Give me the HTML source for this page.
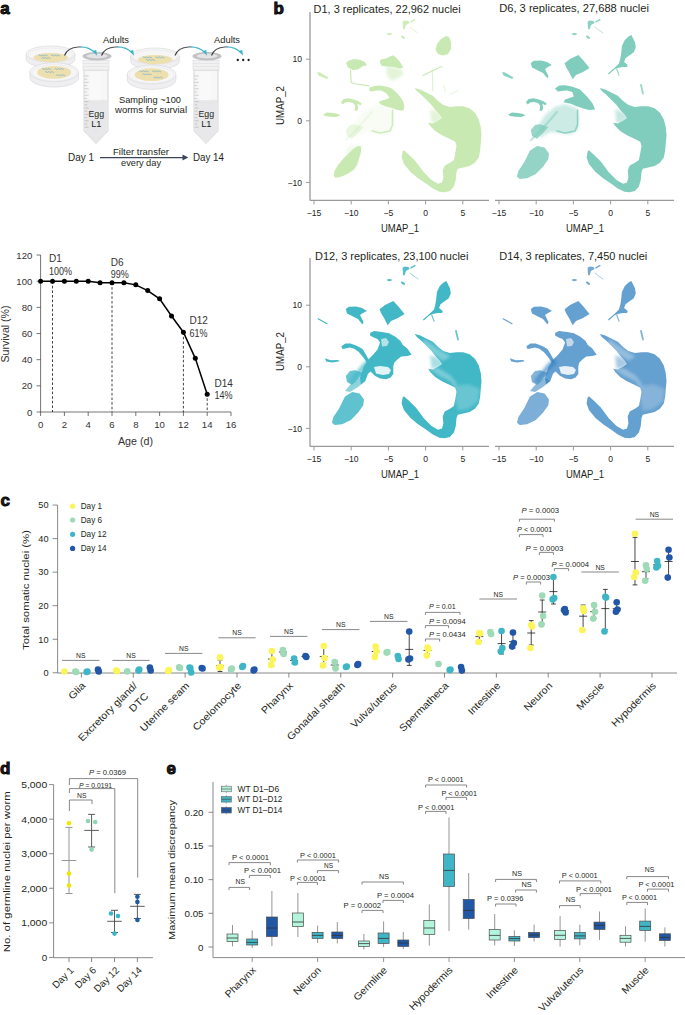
<!DOCTYPE html>
<html><head><meta charset="utf-8"><style>
html,body{margin:0;padding:0;background:#fff;}
svg{display:block;font-family:"Liberation Sans", sans-serif;}
</style></head><body>
<svg width="685" height="1015" viewBox="0 0 685 1015" fill="#231f20">
<rect width="685" height="1015" fill="#fff"/>
<text x="0.30" y="14.10" font-size="17" font-weight="bold" stroke="#000" stroke-width="0.9">a</text>
<path d="M26.2,54 L26.2,59.4 A24.3,8 0 0 0 74.8,59.4 L74.8,54 Z" fill="#efeff1" stroke="#d3d3d6" stroke-width="0.55"/>
<ellipse cx="50.5" cy="54" rx="24.3" ry="8" fill="#f6f6f7" stroke="#d3d3d6" stroke-width="0.55"/>
<ellipse cx="50.5" cy="54.6" rx="22.3" ry="6.7" fill="none" stroke="#e3e3e5" stroke-width="0.5"/>
<ellipse cx="50.7" cy="57.6" rx="17.2" ry="4.6" fill="#eedfae"/>
<path d="M38.5,55.4 q0.75,-1.0 1.5,0 q0.75,1.0 1.5,0 q0.75,-1.0 1.5,0 q0.75,1.0 1.5,0 q0.75,-1.0 1.5,0 q0.75,1.0 1.5,0" fill="none" stroke="#5aa8d4" stroke-width="0.65"/>
<path d="M51.0,55.4 q0.75,-1.0 1.5,0 q0.75,1.0 1.5,0 q0.75,-1.0 1.5,0 q0.75,1.0 1.5,0 q0.75,-1.0 1.5,0 q0.75,1.0 1.5,0" fill="none" stroke="#5aa8d4" stroke-width="0.65"/>
<path d="M41.5,58.0 q0.75,-1.0 1.5,0 q0.75,1.0 1.5,0 q0.75,-1.0 1.5,0 q0.75,1.0 1.5,0 q0.75,-1.0 1.5,0 q0.75,1.0 1.5,0" fill="none" stroke="#5aa8d4" stroke-width="0.65"/>
<path d="M29.900000000000002,72.2 L29.900000000000002,77.60000000000001 A24.3,9.5 0 0 0 78.5,77.60000000000001 L78.5,72.2 Z" fill="#efeff1" stroke="#d3d3d6" stroke-width="0.55"/>
<ellipse cx="54.2" cy="72.2" rx="24.3" ry="9.5" fill="#f6f6f7" stroke="#d3d3d6" stroke-width="0.55"/>
<ellipse cx="54.2" cy="72.8" rx="22.3" ry="8.2" fill="none" stroke="#e3e3e5" stroke-width="0.5"/>
<ellipse cx="54.2" cy="72.4" rx="17" ry="6.4" fill="#eedfae"/>
<path d="M42.2,69.0 q0.75,-1.0 1.5,0 q0.75,1.0 1.5,0 q0.75,-1.0 1.5,0 q0.75,1.0 1.5,0 q0.75,-1.0 1.5,0 q0.75,1.0 1.5,0" fill="none" stroke="#5aa8d4" stroke-width="0.65"/>
<path d="M54.7,69.0 q0.75,-1.0 1.5,0 q0.75,1.0 1.5,0 q0.75,-1.0 1.5,0 q0.75,1.0 1.5,0 q0.75,-1.0 1.5,0 q0.75,1.0 1.5,0" fill="none" stroke="#5aa8d4" stroke-width="0.65"/>
<path d="M45.2,72.0 q0.75,-1.0 1.5,0 q0.75,1.0 1.5,0 q0.75,-1.0 1.5,0 q0.75,1.0 1.5,0 q0.75,-1.0 1.5,0 q0.75,1.0 1.5,0" fill="none" stroke="#5aa8d4" stroke-width="0.65"/>
<path d="M56.2,75.2 q0.75,-1.0 1.5,0 q0.75,1.0 1.5,0 q0.75,-1.0 1.5,0 q0.75,1.0 1.5,0 q0.75,-1.0 1.5,0 q0.75,1.0 1.5,0" fill="none" stroke="#5aa8d4" stroke-width="0.65"/>
<path d="M130.7,56 L130.7,61.4 A24.3,8 0 0 0 179.3,61.4 L179.3,56 Z" fill="#efeff1" stroke="#d3d3d6" stroke-width="0.55"/>
<ellipse cx="155" cy="56" rx="24.3" ry="8" fill="#f6f6f7" stroke="#d3d3d6" stroke-width="0.55"/>
<ellipse cx="155" cy="56.6" rx="22.3" ry="6.7" fill="none" stroke="#e3e3e5" stroke-width="0.5"/>
<ellipse cx="155.2" cy="59.6" rx="17.2" ry="4.6" fill="#eedfae"/>
<path d="M143.0,57.4 q0.75,-1.0 1.5,0 q0.75,1.0 1.5,0 q0.75,-1.0 1.5,0 q0.75,1.0 1.5,0 q0.75,-1.0 1.5,0 q0.75,1.0 1.5,0" fill="none" stroke="#5aa8d4" stroke-width="0.65"/>
<path d="M155.5,57.4 q0.75,-1.0 1.5,0 q0.75,1.0 1.5,0 q0.75,-1.0 1.5,0 q0.75,1.0 1.5,0 q0.75,-1.0 1.5,0 q0.75,1.0 1.5,0" fill="none" stroke="#5aa8d4" stroke-width="0.65"/>
<path d="M146.0,60.0 q0.75,-1.0 1.5,0 q0.75,1.0 1.5,0 q0.75,-1.0 1.5,0 q0.75,1.0 1.5,0 q0.75,-1.0 1.5,0 q0.75,1.0 1.5,0" fill="none" stroke="#5aa8d4" stroke-width="0.65"/>
<path d="M127.3,74.5 L127.3,79.9 A24.3,9.5 0 0 0 175.9,79.9 L175.9,74.5 Z" fill="#efeff1" stroke="#d3d3d6" stroke-width="0.55"/>
<ellipse cx="151.6" cy="74.5" rx="24.3" ry="9.5" fill="#f6f6f7" stroke="#d3d3d6" stroke-width="0.55"/>
<ellipse cx="151.6" cy="75.1" rx="22.3" ry="8.2" fill="none" stroke="#e3e3e5" stroke-width="0.5"/>
<ellipse cx="151.6" cy="74.7" rx="17" ry="6.4" fill="#eedfae"/>
<path d="M139.6,71.3 q0.75,-1.0 1.5,0 q0.75,1.0 1.5,0 q0.75,-1.0 1.5,0 q0.75,1.0 1.5,0 q0.75,-1.0 1.5,0 q0.75,1.0 1.5,0" fill="none" stroke="#5aa8d4" stroke-width="0.65"/>
<path d="M152.1,71.3 q0.75,-1.0 1.5,0 q0.75,1.0 1.5,0 q0.75,-1.0 1.5,0 q0.75,1.0 1.5,0 q0.75,-1.0 1.5,0 q0.75,1.0 1.5,0" fill="none" stroke="#5aa8d4" stroke-width="0.65"/>
<path d="M142.6,74.3 q0.75,-1.0 1.5,0 q0.75,1.0 1.5,0 q0.75,-1.0 1.5,0 q0.75,1.0 1.5,0 q0.75,-1.0 1.5,0 q0.75,1.0 1.5,0" fill="none" stroke="#5aa8d4" stroke-width="0.65"/>
<path d="M153.6,77.5 q0.75,-1.0 1.5,0 q0.75,1.0 1.5,0 q0.75,-1.0 1.5,0 q0.75,1.0 1.5,0 q0.75,-1.0 1.5,0 q0.75,1.0 1.5,0" fill="none" stroke="#5aa8d4" stroke-width="0.65"/>
<path d="M84,70 L84,131 L96.0,143.5 L108,131 L108,70 Z" fill="#f7f7f8" stroke="#c6c6c8" stroke-width="0.7"/>
<path d="M84.4,101 L84.4,131 L96.0,143 L107.6,131 L107.6,101 Z" fill="#e8e8ea"/>
<ellipse cx="96.0" cy="101" rx="11.6" ry="1.2" fill="#ececee" stroke="#dcdcde" stroke-width="0.4"/>
<rect x="90" y="72" width="11" height="28" fill="#f9f9fa"/>
<rect x="83" y="60.5" width="26" height="9.5" fill="#f1f1f2" stroke="#d6d6d8" stroke-width="0.5"/>
<line x1="83" y1="63.5" x2="109" y2="63.5" stroke="#dadadc" stroke-width="0.5"/>
<line x1="83" y1="66.5" x2="109" y2="66.5" stroke="#dadadc" stroke-width="0.5"/>
<line x1="84.6" y1="76.0" x2="88.6" y2="76.0" stroke="#9a9a9c" stroke-width="0.45"/>
<line x1="84.6" y1="79.2" x2="87.19999999999999" y2="79.2" stroke="#9a9a9c" stroke-width="0.45"/>
<line x1="84.6" y1="82.4" x2="88.6" y2="82.4" stroke="#9a9a9c" stroke-width="0.45"/>
<line x1="84.6" y1="85.6" x2="87.19999999999999" y2="85.6" stroke="#9a9a9c" stroke-width="0.45"/>
<line x1="84.6" y1="88.8" x2="88.6" y2="88.8" stroke="#9a9a9c" stroke-width="0.45"/>
<line x1="84.6" y1="92.0" x2="87.19999999999999" y2="92.0" stroke="#9a9a9c" stroke-width="0.45"/>
<line x1="84.6" y1="95.2" x2="88.6" y2="95.2" stroke="#9a9a9c" stroke-width="0.45"/>
<line x1="84.6" y1="98.4" x2="87.19999999999999" y2="98.4" stroke="#9a9a9c" stroke-width="0.45"/>
<line x1="84.6" y1="101.6" x2="88.6" y2="101.6" stroke="#9a9a9c" stroke-width="0.45"/>
<line x1="84.6" y1="104.8" x2="87.19999999999999" y2="104.8" stroke="#9a9a9c" stroke-width="0.45"/>
<line x1="84.6" y1="108.0" x2="88.6" y2="108.0" stroke="#9a9a9c" stroke-width="0.45"/>
<line x1="84.6" y1="111.2" x2="87.19999999999999" y2="111.2" stroke="#9a9a9c" stroke-width="0.45"/>
<line x1="84.6" y1="114.4" x2="88.6" y2="114.4" stroke="#9a9a9c" stroke-width="0.45"/>
<line x1="84.6" y1="117.6" x2="87.19999999999999" y2="117.6" stroke="#9a9a9c" stroke-width="0.45"/>
<line x1="84.6" y1="120.8" x2="88.6" y2="120.8" stroke="#9a9a9c" stroke-width="0.45"/>
<line x1="84.6" y1="124.0" x2="87.19999999999999" y2="124.0" stroke="#9a9a9c" stroke-width="0.45"/>
<line x1="84.6" y1="127.2" x2="88.6" y2="127.2" stroke="#9a9a9c" stroke-width="0.45"/>
<ellipse cx="97.0" cy="56.3" rx="14.6" ry="4.2" fill="#c2c2c4"/>
<ellipse cx="97.0" cy="56.0" rx="11" ry="2.8" fill="#e4e4e6" stroke="#b0b0b2" stroke-width="0.4"/>
<text x="96.30" y="117.30" font-size="9.3" text-anchor="middle" textLength="15.6" lengthAdjust="spacingAndGlyphs">Egg</text>
<text x="96.30" y="127.20" font-size="9.3" text-anchor="middle">L1</text>
<path d="M194,70 L194,131 L206.0,143.5 L218,131 L218,70 Z" fill="#f7f7f8" stroke="#c6c6c8" stroke-width="0.7"/>
<path d="M194.4,101 L194.4,131 L206.0,143 L217.6,131 L217.6,101 Z" fill="#e8e8ea"/>
<ellipse cx="206.0" cy="101" rx="11.6" ry="1.2" fill="#ececee" stroke="#dcdcde" stroke-width="0.4"/>
<rect x="200" y="72" width="11" height="28" fill="#f9f9fa"/>
<rect x="193" y="60.5" width="26" height="9.5" fill="#f1f1f2" stroke="#d6d6d8" stroke-width="0.5"/>
<line x1="193" y1="63.5" x2="219" y2="63.5" stroke="#dadadc" stroke-width="0.5"/>
<line x1="193" y1="66.5" x2="219" y2="66.5" stroke="#dadadc" stroke-width="0.5"/>
<line x1="194.6" y1="76.0" x2="198.6" y2="76.0" stroke="#9a9a9c" stroke-width="0.45"/>
<line x1="194.6" y1="79.2" x2="197.2" y2="79.2" stroke="#9a9a9c" stroke-width="0.45"/>
<line x1="194.6" y1="82.4" x2="198.6" y2="82.4" stroke="#9a9a9c" stroke-width="0.45"/>
<line x1="194.6" y1="85.6" x2="197.2" y2="85.6" stroke="#9a9a9c" stroke-width="0.45"/>
<line x1="194.6" y1="88.8" x2="198.6" y2="88.8" stroke="#9a9a9c" stroke-width="0.45"/>
<line x1="194.6" y1="92.0" x2="197.2" y2="92.0" stroke="#9a9a9c" stroke-width="0.45"/>
<line x1="194.6" y1="95.2" x2="198.6" y2="95.2" stroke="#9a9a9c" stroke-width="0.45"/>
<line x1="194.6" y1="98.4" x2="197.2" y2="98.4" stroke="#9a9a9c" stroke-width="0.45"/>
<line x1="194.6" y1="101.6" x2="198.6" y2="101.6" stroke="#9a9a9c" stroke-width="0.45"/>
<line x1="194.6" y1="104.8" x2="197.2" y2="104.8" stroke="#9a9a9c" stroke-width="0.45"/>
<line x1="194.6" y1="108.0" x2="198.6" y2="108.0" stroke="#9a9a9c" stroke-width="0.45"/>
<line x1="194.6" y1="111.2" x2="197.2" y2="111.2" stroke="#9a9a9c" stroke-width="0.45"/>
<line x1="194.6" y1="114.4" x2="198.6" y2="114.4" stroke="#9a9a9c" stroke-width="0.45"/>
<line x1="194.6" y1="117.6" x2="197.2" y2="117.6" stroke="#9a9a9c" stroke-width="0.45"/>
<line x1="194.6" y1="120.8" x2="198.6" y2="120.8" stroke="#9a9a9c" stroke-width="0.45"/>
<line x1="194.6" y1="124.0" x2="197.2" y2="124.0" stroke="#9a9a9c" stroke-width="0.45"/>
<line x1="194.6" y1="127.2" x2="198.6" y2="127.2" stroke="#9a9a9c" stroke-width="0.45"/>
<ellipse cx="207.0" cy="56.3" rx="14.6" ry="4.2" fill="#c2c2c4"/>
<ellipse cx="207.0" cy="56.0" rx="11" ry="2.8" fill="#e4e4e6" stroke="#b0b0b2" stroke-width="0.4"/>
<text x="206.30" y="117.30" font-size="9.3" text-anchor="middle" textLength="15.6" lengthAdjust="spacingAndGlyphs">Egg</text>
<text x="206.30" y="127.20" font-size="9.3" text-anchor="middle">L1</text>
<defs><linearGradient id="ag" x1="0" x2="1" y1="0" y2="0"><stop offset="0" stop-color="#3a3a3c"/><stop offset="0.45" stop-color="#5a5a5c"/><stop offset="0.6" stop-color="#3fb4c8"/><stop offset="1" stop-color="#3fb4c8"/></linearGradient></defs>
<path d="M64.5,55.5 C68.5,44.5 87.5,44.5 95.0,53.0" fill="none" stroke="url(#ag)" stroke-width="1.1"/><path d="M92.5,51.0 L97.1,55.8 L96.2,49.9 Z" fill="#3fb4c8"/>
<path d="M101.5,55.5 C105.5,44.5 124.5,44.5 132.0,53.0" fill="none" stroke="url(#ag)" stroke-width="1.1"/><path d="M129.5,51.0 L134.1,55.8 L133.2,49.9 Z" fill="#3fb4c8"/>
<path d="M175,55.5 C179,44.5 197.5,44.5 205.0,53.0" fill="none" stroke="url(#ag)" stroke-width="1.1"/><path d="M202.5,51.0 L207.1,55.8 L206.2,49.9 Z" fill="#3fb4c8"/>
<path d="M211.5,55.5 C215.5,44.5 233.5,44.5 241.0,53.0" fill="none" stroke="url(#ag)" stroke-width="1.1"/><path d="M238.5,51.0 L243.1,55.8 L242.2,49.9 Z" fill="#3fb4c8"/>
<text x="116.00" y="43.40" font-size="9.3" text-anchor="middle" textLength="26" lengthAdjust="spacingAndGlyphs">Adults</text>
<text x="227.00" y="43.40" font-size="9.3" text-anchor="middle" textLength="26" lengthAdjust="spacingAndGlyphs">Adults</text>
<circle cx="237.8" cy="60" r="1.15" fill="#1a1a1a"/>
<circle cx="243.2" cy="60" r="1.15" fill="#1a1a1a"/>
<circle cx="248.6" cy="60" r="1.15" fill="#1a1a1a"/>
<text x="150.00" y="103.00" font-size="9.6" text-anchor="middle" textLength="62" lengthAdjust="spacingAndGlyphs">Sampling ~100</text>
<text x="151.00" y="113.00" font-size="9.6" text-anchor="middle" textLength="72" lengthAdjust="spacingAndGlyphs">worms for survial</text>
<text x="81.00" y="161.00" font-size="10.6" text-anchor="middle" textLength="26" lengthAdjust="spacingAndGlyphs">Day 1</text>
<text x="208.50" y="161.00" font-size="10.6" text-anchor="middle" textLength="31" lengthAdjust="spacingAndGlyphs">Day 14</text>
<line x1="100" y1="157.6" x2="184" y2="157.6" stroke="#3b4558" stroke-width="1.35"/>
<path d="M182.5,154.6 L188.3,157.6 L182.5,160.6 Z" fill="#3b4558"/>
<text x="141.00" y="155.00" font-size="9.6" text-anchor="middle" textLength="56" lengthAdjust="spacingAndGlyphs">Filter transfer</text>
<text x="141.00" y="165.50" font-size="9.6" text-anchor="middle" textLength="40" lengthAdjust="spacingAndGlyphs">every day</text>
<line x1="40.6" y1="255.04" x2="40.6" y2="412" stroke="#3a3a3a" stroke-width="0.7"/>
<line x1="40.6" y1="412" x2="231.0" y2="412" stroke="#3a3a3a" stroke-width="0.7"/>
<line x1="36.6" y1="412.0" x2="40.6" y2="412.0" stroke="#3a3a3a" stroke-width="0.7"/>
<text x="32.40" y="415.50" font-size="9.8" text-anchor="end" fill="#333" textLength="5.35" lengthAdjust="spacingAndGlyphs">0</text>
<line x1="36.6" y1="385.84" x2="40.6" y2="385.84" stroke="#3a3a3a" stroke-width="0.7"/>
<text x="32.40" y="389.34" font-size="9.8" text-anchor="end" fill="#333" textLength="10.7" lengthAdjust="spacingAndGlyphs">20</text>
<line x1="36.6" y1="359.68" x2="40.6" y2="359.68" stroke="#3a3a3a" stroke-width="0.7"/>
<text x="32.40" y="363.18" font-size="9.8" text-anchor="end" fill="#333" textLength="10.7" lengthAdjust="spacingAndGlyphs">40</text>
<line x1="36.6" y1="333.52" x2="40.6" y2="333.52" stroke="#3a3a3a" stroke-width="0.7"/>
<text x="32.40" y="337.02" font-size="9.8" text-anchor="end" fill="#333" textLength="10.7" lengthAdjust="spacingAndGlyphs">60</text>
<line x1="36.6" y1="307.36" x2="40.6" y2="307.36" stroke="#3a3a3a" stroke-width="0.7"/>
<text x="32.40" y="310.86" font-size="9.8" text-anchor="end" fill="#333" textLength="10.7" lengthAdjust="spacingAndGlyphs">80</text>
<line x1="36.6" y1="281.2" x2="40.6" y2="281.2" stroke="#3a3a3a" stroke-width="0.7"/>
<text x="32.40" y="284.70" font-size="9.8" text-anchor="end" fill="#333" textLength="16.049999999999997" lengthAdjust="spacingAndGlyphs">100</text>
<line x1="36.6" y1="255.04" x2="40.6" y2="255.04" stroke="#3a3a3a" stroke-width="0.7"/>
<text x="32.40" y="258.54" font-size="9.8" text-anchor="end" fill="#333" textLength="16.049999999999997" lengthAdjust="spacingAndGlyphs">120</text>
<line x1="40.6" y1="412" x2="40.6" y2="416" stroke="#3a3a3a" stroke-width="0.7"/>
<text x="40.60" y="428.20" font-size="9.8" text-anchor="middle" fill="#333" textLength="5.35" lengthAdjust="spacingAndGlyphs">0</text>
<line x1="64.4" y1="412" x2="64.4" y2="416" stroke="#3a3a3a" stroke-width="0.7"/>
<text x="64.40" y="428.20" font-size="9.8" text-anchor="middle" fill="#333" textLength="5.35" lengthAdjust="spacingAndGlyphs">2</text>
<line x1="88.2" y1="412" x2="88.2" y2="416" stroke="#3a3a3a" stroke-width="0.7"/>
<text x="88.20" y="428.20" font-size="9.8" text-anchor="middle" fill="#333" textLength="5.35" lengthAdjust="spacingAndGlyphs">4</text>
<line x1="112.0" y1="412" x2="112.0" y2="416" stroke="#3a3a3a" stroke-width="0.7"/>
<text x="112.00" y="428.20" font-size="9.8" text-anchor="middle" fill="#333" textLength="5.35" lengthAdjust="spacingAndGlyphs">6</text>
<line x1="135.8" y1="412" x2="135.8" y2="416" stroke="#3a3a3a" stroke-width="0.7"/>
<text x="135.80" y="428.20" font-size="9.8" text-anchor="middle" fill="#333" textLength="5.35" lengthAdjust="spacingAndGlyphs">8</text>
<line x1="159.6" y1="412" x2="159.6" y2="416" stroke="#3a3a3a" stroke-width="0.7"/>
<text x="159.60" y="428.20" font-size="9.8" text-anchor="middle" fill="#333" textLength="10.7" lengthAdjust="spacingAndGlyphs">10</text>
<line x1="183.4" y1="412" x2="183.4" y2="416" stroke="#3a3a3a" stroke-width="0.7"/>
<text x="183.40" y="428.20" font-size="9.8" text-anchor="middle" fill="#333" textLength="10.7" lengthAdjust="spacingAndGlyphs">12</text>
<line x1="207.2" y1="412" x2="207.2" y2="416" stroke="#3a3a3a" stroke-width="0.7"/>
<text x="207.20" y="428.20" font-size="9.8" text-anchor="middle" fill="#333" textLength="10.7" lengthAdjust="spacingAndGlyphs">14</text>
<line x1="231.0" y1="412" x2="231.0" y2="416" stroke="#3a3a3a" stroke-width="0.7"/>
<text x="231.00" y="428.20" font-size="9.8" text-anchor="middle" fill="#333" textLength="10.7" lengthAdjust="spacingAndGlyphs">16</text>
<text x="135.50" y="444.50" font-size="10" text-anchor="middle" fill="#333" textLength="35" lengthAdjust="spacingAndGlyphs">Age (d)</text>
<text x="8.90" y="334.00" font-size="10" text-anchor="middle" fill="#333" transform="rotate(-90 8.90 334.00)" textLength="57" lengthAdjust="spacingAndGlyphs">Survival (%)</text>
<line x1="52.5" y1="281.2" x2="52.5" y2="412" stroke="#111" stroke-width="0.8" stroke-dasharray="2.6,2"/>
<line x1="112.0" y1="282.508" x2="112.0" y2="412" stroke="#111" stroke-width="0.8" stroke-dasharray="2.6,2"/>
<line x1="183.4" y1="332.212" x2="183.4" y2="412" stroke="#111" stroke-width="0.8" stroke-dasharray="2.6,2"/>
<line x1="207.2" y1="393.688" x2="207.2" y2="412" stroke="#111" stroke-width="0.8" stroke-dasharray="2.6,2"/>
<polyline points="40.60,281.20 52.50,281.20 64.40,281.20 76.30,281.20 88.20,281.20 100.10,282.77 112.00,282.77 123.90,282.77 135.80,284.86 147.70,290.62 159.60,298.86 171.50,315.99 183.40,332.21 195.30,358.37 207.20,394.34" fill="none" stroke="#000" stroke-width="1.5"/>
<circle cx="40.60" cy="281.20" r="2.5" fill="#000"/>
<circle cx="52.50" cy="281.20" r="2.5" fill="#000"/>
<circle cx="64.40" cy="281.20" r="2.5" fill="#000"/>
<circle cx="76.30" cy="281.20" r="2.5" fill="#000"/>
<circle cx="88.20" cy="281.20" r="2.5" fill="#000"/>
<circle cx="100.10" cy="282.77" r="2.5" fill="#000"/>
<circle cx="112.00" cy="282.77" r="2.5" fill="#000"/>
<circle cx="123.90" cy="282.77" r="2.5" fill="#000"/>
<circle cx="135.80" cy="284.86" r="2.5" fill="#000"/>
<circle cx="147.70" cy="290.62" r="2.5" fill="#000"/>
<circle cx="159.60" cy="298.86" r="2.5" fill="#000"/>
<circle cx="171.50" cy="315.99" r="2.5" fill="#000"/>
<circle cx="183.40" cy="332.21" r="2.5" fill="#000"/>
<circle cx="195.30" cy="358.37" r="2.5" fill="#000"/>
<circle cx="207.20" cy="394.34" r="2.5" fill="#000"/>
<text x="49.00" y="262.00" font-size="10" fill="#333">D1</text>
<text x="49.00" y="274.50" font-size="10" fill="#333" textLength="23" lengthAdjust="spacingAndGlyphs">100%</text>
<text x="110.70" y="265.50" font-size="10" fill="#333">D6</text>
<text x="110.70" y="278.00" font-size="10" fill="#333" textLength="18" lengthAdjust="spacingAndGlyphs">99%</text>
<text x="189.50" y="324.00" font-size="10" fill="#333">D12</text>
<text x="189.50" y="336.80" font-size="10" fill="#333" textLength="18" lengthAdjust="spacingAndGlyphs">61%</text>
<text x="214.50" y="386.50" font-size="10" fill="#333">D14</text>
<text x="214.50" y="399.00" font-size="10" fill="#333" textLength="18" lengthAdjust="spacingAndGlyphs">14%</text>
<defs><filter id="ub" x="-5%" y="-5%" width="110%" height="110%"><feGaussianBlur stdDeviation="0.35"/></filter><filter id="ub2" x="-20%" y="-20%" width="140%" height="140%"><feGaussianBlur stdDeviation="1.6"/></filter></defs>
<text x="273.50" y="14.00" font-size="17" font-weight="bold" stroke="#000" stroke-width="0.9">b</text>
<g transform="translate(0,0)" filter="url(#ub)">
<polygon points="317.0,72.0 320.0,72.5 328.5,77.5 327.0,79.0 318.5,75.5" fill="#c8eab2" fill-opacity="0.90"/>
<polygon points="323.1,114.5 327.0,112.6 333.0,113.0 338.0,114.0 340.5,115.5 336.0,116.9 330.0,116.8 325.0,116.0" fill="#c8eab2"/>
<polygon points="402.6,21.5 405.0,20.6 408.5,21.0 409.6,23.0 406.0,25.0 404.5,29.5 403.0,29.0 402.8,25.0" fill="#c8eab2" fill-opacity="0.90"/>
<polyline points="410.9,21.8 414.8,19.6" fill="none" stroke="#c8eab2" stroke-width="1.5" stroke-linecap="round" stroke-linejoin="round" stroke-opacity="0.90"/>
<polyline points="410.0,27.0 413.0,29.5 418.0,33.0" fill="none" stroke="#c8eab2" stroke-width="0.9" stroke-linecap="round" stroke-linejoin="round" stroke-opacity="0.60"/>
<ellipse cx="389.4" cy="34.1" rx="2.6" ry="1.1" fill="#c8eab2" fill-opacity="0.90"/>
<ellipse cx="403" cy="37.2" rx="2.4" ry="1.2" transform="rotate(35 403 37.2)" fill="#c8eab2" fill-opacity="0.90"/>
<polygon points="346.0,63.0 349.0,60.5 354.0,59.0 360.0,59.8 365.0,62.0 367.0,65.5 363.0,66.0 358.0,69.5 353.0,70.0 348.0,67.5" fill="#c8eab2"/>
<polyline points="350.5,70.0 351.2,82.5 356.0,84.0 369.0,85.8" fill="none" stroke="#c8eab2" stroke-width="1.2" stroke-linecap="round" stroke-linejoin="round"/>
<polygon points="380.4,59.5 386.0,58.5 390.0,56.5 393.1,55.2 396.0,57.5 400.0,62.0 403.4,67.5 400.0,68.5 394.0,67.0 388.0,66.5 382.0,66.0 380.0,63.0" fill="#c8eab2"/>
<g filter="url(#ub2)">
<polygon points="386.0,66.0 400.0,68.5 404.0,74.0 398.0,78.0 392.0,81.0 387.0,76.0" fill="#c8eab2" fill-opacity="0.50"/>
</g>
<polygon points="435.5,50.0 437.0,44.0 441.0,39.0 446.0,36.0 449.0,37.0 451.0,42.0 451.0,49.0 448.0,54.0 443.0,55.5 438.0,54.0" fill="#c8eab2"/>
<polyline points="423.0,75.4 442.0,66.2" fill="none" stroke="#c8eab2" stroke-width="1.2" stroke-linecap="round" stroke-linejoin="round" stroke-opacity="0.90"/>
<polyline points="432.2,69.5 432.9,90.5" fill="none" stroke="#c8eab2" stroke-width="0.8" stroke-linecap="round" stroke-linejoin="round" stroke-opacity="0.85"/>
<polyline points="444.0,86.0 445.3,91.8" fill="none" stroke="#c8eab2" stroke-width="0.7" stroke-linecap="round" stroke-linejoin="round" stroke-opacity="0.70"/>
<polyline points="450.0,94.4 457.8,90.5" fill="none" stroke="#c8eab2" stroke-width="0.7" stroke-linecap="round" stroke-linejoin="round" stroke-opacity="0.70"/>
<polygon points="345.8,130.0 350.0,125.0 355.0,124.2 363.3,127.0 358.0,133.0 352.0,138.8 347.0,136.0" fill="#c8eab2" fill-opacity="0.40"/>
<polygon points="340.9,102.3 343.6,99.1 348.7,98.2 353.8,99.4 358.9,101.6 361.8,103.8 360.4,105.3 357.4,103.8 358.2,108.2 356.7,111.1 354.5,110.4 355.3,106.0 353.1,103.1 348.7,102.0 345.0,102.6 342.8,104.5" fill="#c8eab2"/>
<g filter="url(#ub2)">
<polygon points="353.8,125.0 360.0,115.0 370.0,107.0 380.0,104.0 392.0,108.0 394.0,118.0 393.0,130.0 385.0,134.5 375.0,133.0 365.0,132.0 355.0,138.0" fill="#c8eab2" fill-opacity="0.13"/>
</g>
<polygon points="369.6,87.5 375.0,86.0 380.0,85.5 386.0,86.5 391.0,88.0 396.0,92.0 400.0,96.5 403.0,101.0 404.5,106.0 403.5,110.0 401.0,110.8 396.0,109.5 392.0,108.0 386.0,106.5 381.0,104.5 378.5,102.0 382.0,100.5 387.0,99.0 389.5,97.5 386.0,93.0 381.0,90.5 376.0,90.5 372.0,91.5 369.5,91.0" fill="#c8eab2"/>
<polyline points="392.5,110.0 392.5,125.0 390.0,131.0 380.0,133.0 372.0,131.0" fill="none" stroke="#c8eab2" stroke-width="1.6" stroke-linecap="round" stroke-linejoin="round" stroke-opacity="0.85"/>
<polyline points="346.0,140.0 358.0,128.0 372.0,112.0" fill="none" stroke="#c8eab2" stroke-width="2.2" stroke-linecap="round" stroke-linejoin="round" stroke-opacity="0.22"/>
<polygon points="333.7,175.5 334.5,171.0 338.0,165.0 343.0,159.0 348.0,154.0 352.0,150.0 356.0,147.0 359.0,146.0 361.0,146.5 361.0,152.0 359.0,159.0 357.0,165.0 354.0,169.5 349.0,173.0 343.0,176.0 338.0,177.5 335.0,177.5" fill="#c8eab2"/>
<g filter="url(#ub2)">
<polygon points="345.5,151.8 348.0,147.0 352.0,145.0 357.0,144.5 361.0,145.0 361.0,148.0 356.0,149.0 351.0,152.0 347.0,156.0" fill="#c8eab2" fill-opacity="0.22"/>
</g>
<polygon points="414.5,87.9 419.7,89.2 426.3,92.5 432.8,95.8 438.1,101.0 443.4,105.0 449.9,106.9 456.5,106.3 463.1,106.3 469.6,108.2 474.9,112.8 478.8,119.4 480.8,127.3 481.5,135.2 480.8,143.1 480.1,150.9 478.8,157.5 474.9,162.8 469.6,166.1 463.1,167.4 457.8,168.7 456.5,172.0 455.8,179.9 453.9,186.4 449.9,191.0 444.7,192.3 439.4,191.7 432.8,188.4 426.3,183.8 418.4,178.5 410.5,172.0 403.9,164.1 401.6,157.5 402.6,151.6 403.9,150.3 409.2,154.9 415.8,161.5 423.6,172.0 431.5,179.9 438.1,183.8 442.0,182.5 443.4,177.2 442.7,170.7 444.7,165.4 449.9,162.8 453.9,160.1 455.2,153.6 456.5,145.7 455.2,141.8 449.9,139.1 442.0,135.2 435.5,131.2 430.2,126.0 428.2,122.7 432.8,123.4 438.1,120.7 442.0,118.1 439.4,114.2 435.5,110.2 431.5,105.0 426.3,99.7 421.0,94.5 417.1,91.2" fill="#c8eab2"/>
<g filter="url(#ub2)">
<polygon points="430.2,108.9 439.4,112.8 443.4,118.1 438.1,122.0 431.5,123.4" fill="#c8eab2" fill-opacity="0.50"/>
</g>
</g>
<g transform="translate(185,0)" filter="url(#ub)">
<polygon points="317.0,72.0 320.0,72.5 328.5,77.5 327.0,79.0 318.5,75.5" fill="#80cdbd" fill-opacity="0.90"/>
<polygon points="323.1,114.5 327.0,112.6 333.0,113.0 338.0,114.0 340.5,115.5 336.0,116.9 330.0,116.8 325.0,116.0" fill="#80cdbd"/>
<polygon points="402.6,21.5 405.0,20.6 408.5,21.0 409.6,23.0 406.0,25.0 404.5,29.5 403.0,29.0 402.8,25.0" fill="#80cdbd" fill-opacity="0.90"/>
<polyline points="410.9,21.8 414.8,19.6" fill="none" stroke="#80cdbd" stroke-width="1.5" stroke-linecap="round" stroke-linejoin="round" stroke-opacity="0.90"/>
<polyline points="410.0,27.0 413.0,29.5 418.0,33.0" fill="none" stroke="#80cdbd" stroke-width="0.9" stroke-linecap="round" stroke-linejoin="round" stroke-opacity="0.60"/>
<ellipse cx="389.4" cy="34.1" rx="2.6" ry="1.1" fill="#80cdbd" fill-opacity="0.90"/>
<ellipse cx="403" cy="37.2" rx="2.4" ry="1.2" transform="rotate(35 403 37.2)" fill="#80cdbd" fill-opacity="0.90"/>
<polygon points="345.8,63.0 349.0,60.7 356.0,60.5 362.0,62.0 366.9,65.0 363.0,67.0 360.0,69.0 363.5,76.0 362.5,78.5 358.0,73.0 352.0,70.0 347.0,67.5" fill="#80cdbd"/>
<polygon points="379.6,63.2 385.0,59.0 393.3,55.1 398.0,60.0 404.5,68.0 398.0,72.0 391.0,75.0 387.7,79.2 384.0,72.0 381.0,67.0" fill="#80cdbd"/>
<polygon points="446.4,35.0 450.0,42.2 450.8,47.4 448.6,52.5 444.2,55.4 440.5,58.3 439.1,62.0 442.7,64.9 442.0,67.1 437.6,67.1 434.0,67.8 429.6,69.3 423.8,74.4 423.0,73.6 429.6,67.8 434.0,63.4 435.4,58.3 436.2,53.2 436.9,45.9 439.8,40.1 443.5,36.4" fill="#80cdbd"/>
<polyline points="431.8,69.3 434.0,75.1" fill="none" stroke="#80cdbd" stroke-width="1.2" stroke-linecap="round" stroke-linejoin="round" stroke-opacity="0.80"/>
<polyline points="456.0,85.0 458.0,93.5" fill="none" stroke="#80cdbd" stroke-width="1.8" stroke-linecap="round" stroke-linejoin="round" stroke-opacity="0.80"/>
<polygon points="345.8,130.0 350.0,125.0 355.0,124.2 363.3,127.0 358.0,133.0 352.0,138.8 347.0,136.0" fill="#80cdbd" fill-opacity="0.80"/>
<polygon points="340.9,102.3 343.6,99.1 348.7,98.2 353.8,99.4 358.9,101.6 361.8,103.8 360.4,105.3 357.4,103.8 358.2,108.2 356.7,111.1 354.5,110.4 355.3,106.0 353.1,103.1 348.7,102.0 345.0,102.6 342.8,104.5" fill="#80cdbd"/>
<g filter="url(#ub2)">
<polygon points="353.8,125.0 360.0,115.0 370.0,107.0 380.0,104.0 392.0,108.0 394.0,118.0 393.0,130.0 385.0,134.5 375.0,133.0 365.0,132.0 355.0,138.0" fill="#80cdbd" fill-opacity="0.40"/>
</g>
<polygon points="369.9,88.5 374.2,85.5 380.0,85.3 385.9,86.3 394.7,89.2 402.0,96.5 407.8,103.8 410.0,109.6 404.0,110.0 397.6,108.2 391.0,106.0 385.9,103.8 378.6,102.3 380.0,99.5 386.0,97.5 388.8,96.5 387.4,92.1 382.0,90.5 378.6,90.7 372.8,91.4" fill="#80cdbd"/>
<polyline points="392.5,110.0 392.5,125.0 390.0,131.0 380.0,133.0 372.0,131.0" fill="none" stroke="#80cdbd" stroke-width="1.6" stroke-linecap="round" stroke-linejoin="round" stroke-opacity="0.85"/>
<polyline points="346.0,140.0 358.0,128.0 372.0,112.0" fill="none" stroke="#80cdbd" stroke-width="2.2" stroke-linecap="round" stroke-linejoin="round" stroke-opacity="0.50"/>
<polygon points="331.9,176.8 333.4,171.0 339.2,162.2 345.0,150.5 352.3,146.1 359.6,147.6 364.0,153.4 363.3,159.3 358.2,166.6 350.9,173.9 342.1,178.2 334.8,179.0" fill="#80cdbd" fill-opacity="0.85"/>
<polygon points="414.5,87.9 419.7,89.2 426.3,92.5 432.8,95.8 438.1,101.0 443.4,105.0 449.9,106.9 456.5,106.3 463.1,106.3 469.6,108.2 474.9,112.8 478.8,119.4 480.8,127.3 481.5,135.2 480.8,143.1 480.1,150.9 478.8,157.5 474.9,162.8 469.6,166.1 463.1,167.4 457.8,168.7 456.5,172.0 455.8,179.9 453.9,186.4 449.9,191.0 444.7,192.3 439.4,191.7 432.8,188.4 426.3,183.8 418.4,178.5 410.5,172.0 403.9,164.1 401.6,157.5 402.6,151.6 403.9,150.3 409.2,154.9 415.8,161.5 423.6,172.0 431.5,179.9 438.1,183.8 442.0,182.5 443.4,177.2 442.7,170.7 444.7,165.4 449.9,162.8 453.9,160.1 455.2,153.6 456.5,145.7 455.2,141.8 449.9,139.1 442.0,135.2 435.5,131.2 430.2,126.0 428.2,122.7 432.8,123.4 438.1,120.7 442.0,118.1 439.4,114.2 435.5,110.2 431.5,105.0 426.3,99.7 421.0,94.5 417.1,91.2" fill="#80cdbd"/>
<g filter="url(#ub2)">
<polygon points="430.2,108.9 439.4,112.8 443.4,118.1 438.1,122.0 431.5,123.4" fill="#80cdbd" fill-opacity="0.45"/>
</g>
</g>
<g transform="translate(0,246)" filter="url(#ub)">
<polyline points="318.1,72.8 327.0,77.7" fill="none" stroke="#42b7c6" stroke-width="1.1" stroke-linecap="round" stroke-linejoin="round"/>
<polygon points="324.8,112.3 330.7,114.2 338.1,114.0 339.6,115.2 332.2,116.4 326.3,115.4" fill="#42b7c6"/>
<polygon points="402.6,21.5 405.0,20.6 408.5,21.0 409.6,23.0 406.0,25.0 404.5,29.5 403.0,29.0 402.8,25.0" fill="#42b7c6" fill-opacity="0.90"/>
<polyline points="410.9,21.8 414.8,19.6" fill="none" stroke="#42b7c6" stroke-width="1.5" stroke-linecap="round" stroke-linejoin="round" stroke-opacity="0.90"/>
<polyline points="410.0,27.0 413.0,29.5 418.0,33.0" fill="none" stroke="#42b7c6" stroke-width="0.9" stroke-linecap="round" stroke-linejoin="round" stroke-opacity="0.60"/>
<ellipse cx="389.4" cy="34.1" rx="2.6" ry="1.1" fill="#42b7c6" fill-opacity="0.90"/>
<ellipse cx="403" cy="37.2" rx="2.4" ry="1.2" transform="rotate(35 403 37.2)" fill="#42b7c6" fill-opacity="0.90"/>
<polygon points="345.8,63.0 349.0,60.7 356.0,60.5 362.0,62.0 366.9,65.0 363.0,67.0 360.0,69.0 363.5,76.0 362.5,78.5 358.0,73.0 352.0,70.0 347.0,67.5" fill="#42b7c6"/>
<polygon points="379.6,63.2 385.0,59.0 393.3,55.1 398.0,60.0 404.5,68.0 398.0,72.0 391.0,75.0 387.7,79.2 384.0,72.0 381.0,67.0" fill="#42b7c6"/>
<polygon points="446.4,35.0 450.0,42.2 450.8,47.4 448.6,52.5 444.2,55.4 440.5,58.3 439.1,62.0 442.7,64.9 442.0,67.1 437.6,67.1 434.0,67.8 429.6,69.3 423.8,74.4 423.0,73.6 429.6,67.8 434.0,63.4 435.4,58.3 436.2,53.2 436.9,45.9 439.8,40.1 443.5,36.4" fill="#42b7c6"/>
<polyline points="431.8,69.3 434.0,75.1" fill="none" stroke="#42b7c6" stroke-width="1.2" stroke-linecap="round" stroke-linejoin="round" stroke-opacity="0.80"/>
<polyline points="456.0,85.0 458.0,93.5" fill="none" stroke="#42b7c6" stroke-width="1.8" stroke-linecap="round" stroke-linejoin="round" stroke-opacity="0.80"/>
<polygon points="345.8,130.0 350.0,125.0 355.0,124.2 363.3,127.0 358.0,133.0 352.0,138.8 347.0,136.0" fill="#42b7c6" fill-opacity="0.80"/>
<polygon points="341.3,100.2 345.5,97.6 350.6,97.5 357.3,99.9 362.5,103.1 366.2,109.0 369.1,114.9 366.9,116.4 363.2,111.2 358.8,106.1 354.3,102.8 349.9,101.6 345.5,102.4 342.5,103.1" fill="#42b7c6"/>
<g filter="url(#ub2)">
<polygon points="369.4,112.1 372.0,117.4 364.2,123.9 358.9,130.5 353.6,137.1 348.4,136.4 352.3,130.5 357.6,123.9 362.8,117.4" fill="#42b7c6" fill-opacity="0.65"/>
</g>
<polygon points="370.1,86.9 374.0,85.1 381.9,86.0 388.9,87.3 395.0,90.4 400.3,94.8 402.9,99.1 407.3,102.6 411.7,108.8 407.3,110.1 401.2,110.5 397.7,113.2 394.2,116.7 393.3,120.2 393.3,128.0 390.6,131.5 386.3,133.3 380.1,132.4 374.9,129.8 370.5,125.4 367.9,128.0 365.3,135.0 360.9,138.5 360.0,131.5 363.5,121.0 367.9,114.0 373.1,108.8 377.5,103.5 380.1,96.5 377.5,93.0 373.1,91.3 370.1,89.5" fill="#42b7c6"/>
<polygon points="381.0,93.0 386.0,92.0 389.0,96.0 387.0,100.0 382.0,100.5" fill="#fff" fill-opacity="0.60"/>
<polygon points="374.0,121.0 380.0,120.0 388.0,121.0 391.0,124.0 389.0,128.0 383.0,129.0 376.0,127.5" fill="#fff" fill-opacity="0.85"/>
<polygon points="360.0,131.5 365.3,135.0 358.0,141.0 350.0,146.0 345.0,145.0 350.0,139.0 355.0,135.0" fill="#42b7c6" fill-opacity="0.60"/>
<polygon points="331.9,176.8 333.4,171.0 339.2,162.2 345.0,150.5 352.3,146.1 359.6,147.6 364.0,153.4 363.3,159.3 358.2,166.6 350.9,173.9 342.1,178.2 334.8,179.0" fill="#42b7c6" fill-opacity="0.85"/>
<polygon points="414.5,87.9 419.7,89.2 426.3,92.5 432.8,95.8 438.1,101.0 443.4,105.0 449.9,106.9 456.5,106.3 463.1,106.3 469.6,108.2 474.9,112.8 478.8,119.4 480.8,127.3 481.5,135.2 480.8,143.1 480.1,150.9 478.8,157.5 474.9,162.8 469.6,166.1 463.1,167.4 457.8,168.7 456.5,172.0 455.8,179.9 453.9,186.4 449.9,191.0 444.7,192.3 439.4,191.7 432.8,188.4 426.3,183.8 418.4,178.5 410.5,172.0 403.9,164.1 401.6,157.5 402.6,151.6 403.9,150.3 409.2,154.9 415.8,161.5 423.6,172.0 431.5,179.9 438.1,183.8 442.0,182.5 443.4,177.2 442.7,170.7 444.7,165.4 449.9,162.8 453.9,160.1 455.2,153.6 456.5,145.7 455.2,141.8 449.9,139.1 442.0,135.2 435.5,131.2 430.2,126.0 428.2,122.7 432.8,123.4 438.1,120.7 442.0,118.1 439.4,114.2 435.5,110.2 431.5,105.0 426.3,99.7 421.0,94.5 417.1,91.2" fill="#42b7c6"/>
<g filter="url(#ub2)">
<polygon points="430.2,108.9 439.4,112.8 443.4,118.1 438.1,122.0 431.5,123.4" fill="#42b7c6" fill-opacity="0.45"/>
</g>
<g filter="url(#ub2)">
<polygon points="426.4,120.7 438.8,122.2 450.5,129.5 456.3,136.8 456.3,144.1 450.5,135.3 438.8,129.5" fill="#fff" fill-opacity="0.30"/>
<polygon points="456.3,139.7 468.0,138.2 479.7,142.6 478.2,155.8 468.0,163.0 457.8,164.5 454.9,152.8" fill="#fff" fill-opacity="0.20"/>
<polygon points="424.2,93.0 438.8,103.2 450.5,110.5 443.2,114.9 431.5,107.6 421.3,98.8" fill="#fff" fill-opacity="0.30"/>
</g>
</g>
<g transform="translate(185,246)" filter="url(#ub)">
<polyline points="318.1,72.8 327.0,77.7" fill="none" stroke="#2f7fbf" stroke-width="1.1" stroke-linecap="round" stroke-linejoin="round" stroke-opacity="0.74"/>
<polygon points="324.8,112.3 330.7,114.2 338.1,114.0 339.6,115.2 332.2,116.4 326.3,115.4" fill="#2f7fbf" fill-opacity="0.74"/>
<polygon points="402.6,21.5 405.0,20.6 408.5,21.0 409.6,23.0 406.0,25.0 404.5,29.5 403.0,29.0 402.8,25.0" fill="#2f7fbf" fill-opacity="0.67"/>
<polyline points="410.9,21.8 414.8,19.6" fill="none" stroke="#2f7fbf" stroke-width="1.5" stroke-linecap="round" stroke-linejoin="round" stroke-opacity="0.67"/>
<polyline points="410.0,27.0 413.0,29.5 418.0,33.0" fill="none" stroke="#2f7fbf" stroke-width="0.9" stroke-linecap="round" stroke-linejoin="round" stroke-opacity="0.44"/>
<ellipse cx="389.4" cy="34.1" rx="2.6" ry="1.1" fill="#2f7fbf" fill-opacity="0.67"/>
<ellipse cx="403" cy="37.2" rx="2.4" ry="1.2" transform="rotate(35 403 37.2)" fill="#2f7fbf" fill-opacity="0.67"/>
<polygon points="345.8,63.0 349.0,60.7 356.0,60.5 362.0,62.0 366.9,65.0 363.0,67.0 360.0,69.0 363.5,76.0 362.5,78.5 358.0,73.0 352.0,70.0 347.0,67.5" fill="#2f7fbf" fill-opacity="0.74"/>
<polygon points="379.6,63.2 385.0,59.0 393.3,55.1 398.0,60.0 404.5,68.0 398.0,72.0 391.0,75.0 387.7,79.2 384.0,72.0 381.0,67.0" fill="#2f7fbf" fill-opacity="0.74"/>
<polygon points="446.4,35.0 450.0,42.2 450.8,47.4 448.6,52.5 444.2,55.4 440.5,58.3 439.1,62.0 442.7,64.9 442.0,67.1 437.6,67.1 434.0,67.8 429.6,69.3 423.8,74.4 423.0,73.6 429.6,67.8 434.0,63.4 435.4,58.3 436.2,53.2 436.9,45.9 439.8,40.1 443.5,36.4" fill="#2f7fbf" fill-opacity="0.74"/>
<polyline points="431.8,69.3 434.0,75.1" fill="none" stroke="#2f7fbf" stroke-width="1.2" stroke-linecap="round" stroke-linejoin="round" stroke-opacity="0.59"/>
<polyline points="456.0,85.0 458.0,93.5" fill="none" stroke="#2f7fbf" stroke-width="1.8" stroke-linecap="round" stroke-linejoin="round" stroke-opacity="0.59"/>
<polygon points="345.8,130.0 350.0,125.0 355.0,124.2 363.3,127.0 358.0,133.0 352.0,138.8 347.0,136.0" fill="#2f7fbf" fill-opacity="0.59"/>
<polygon points="341.3,100.2 345.5,97.6 350.6,97.5 357.3,99.9 362.5,103.1 366.2,109.0 369.1,114.9 366.9,116.4 363.2,111.2 358.8,106.1 354.3,102.8 349.9,101.6 345.5,102.4 342.5,103.1" fill="#2f7fbf" fill-opacity="0.74"/>
<g filter="url(#ub2)">
<polygon points="369.4,112.1 372.0,117.4 364.2,123.9 358.9,130.5 353.6,137.1 348.4,136.4 352.3,130.5 357.6,123.9 362.8,117.4" fill="#2f7fbf" fill-opacity="0.60"/>
</g>
<polygon points="370.1,86.9 374.0,85.1 381.9,86.0 388.9,87.3 395.0,90.4 400.3,94.8 402.9,99.1 407.3,102.6 411.7,108.8 407.3,110.1 401.2,110.5 397.7,113.2 394.2,116.7 393.3,120.2 393.3,128.0 390.6,131.5 386.3,133.3 380.1,132.4 374.9,129.8 370.5,125.4 367.9,128.0 365.3,135.0 360.9,138.5 360.0,131.5 363.5,121.0 367.9,114.0 373.1,108.8 377.5,103.5 380.1,96.5 377.5,93.0 373.1,91.3 370.1,89.5" fill="#2f7fbf" fill-opacity="0.74"/>
<polygon points="381.0,93.0 386.0,92.0 389.0,96.0 387.0,100.0 382.0,100.5" fill="#fff" fill-opacity="0.60"/>
<polygon points="374.0,121.0 380.0,120.0 388.0,121.0 391.0,124.0 389.0,128.0 383.0,129.0 376.0,127.5" fill="#fff" fill-opacity="0.85"/>
<polygon points="360.0,131.5 365.3,135.0 358.0,141.0 350.0,146.0 345.0,145.0 350.0,139.0 355.0,135.0" fill="#2f7fbf" fill-opacity="0.55"/>
<polygon points="331.9,176.8 333.4,171.0 339.2,162.2 345.0,150.5 352.3,146.1 359.6,147.6 364.0,153.4 363.3,159.3 358.2,166.6 350.9,173.9 342.1,178.2 334.8,179.0" fill="#2f7fbf" fill-opacity="0.63"/>
<polygon points="414.5,87.9 419.7,89.2 426.3,92.5 432.8,95.8 438.1,101.0 443.4,105.0 449.9,106.9 456.5,106.3 463.1,106.3 469.6,108.2 474.9,112.8 478.8,119.4 480.8,127.3 481.5,135.2 480.8,143.1 480.1,150.9 478.8,157.5 474.9,162.8 469.6,166.1 463.1,167.4 457.8,168.7 456.5,172.0 455.8,179.9 453.9,186.4 449.9,191.0 444.7,192.3 439.4,191.7 432.8,188.4 426.3,183.8 418.4,178.5 410.5,172.0 403.9,164.1 401.6,157.5 402.6,151.6 403.9,150.3 409.2,154.9 415.8,161.5 423.6,172.0 431.5,179.9 438.1,183.8 442.0,182.5 443.4,177.2 442.7,170.7 444.7,165.4 449.9,162.8 453.9,160.1 455.2,153.6 456.5,145.7 455.2,141.8 449.9,139.1 442.0,135.2 435.5,131.2 430.2,126.0 428.2,122.7 432.8,123.4 438.1,120.7 442.0,118.1 439.4,114.2 435.5,110.2 431.5,105.0 426.3,99.7 421.0,94.5 417.1,91.2" fill="#2f7fbf" fill-opacity="0.74"/>
<g filter="url(#ub2)">
<polygon points="430.2,108.9 439.4,112.8 443.4,118.1 438.1,122.0 431.5,123.4" fill="#2f7fbf" fill-opacity="0.41"/>
</g>
<g filter="url(#ub2)">
<polygon points="426.4,120.7 438.8,122.2 450.5,129.5 456.3,136.8 456.3,144.1 450.5,135.3 438.8,129.5" fill="#fff" fill-opacity="0.30"/>
<polygon points="456.3,139.7 468.0,138.2 479.7,142.6 478.2,155.8 468.0,163.0 457.8,164.5 454.9,152.8" fill="#fff" fill-opacity="0.20"/>
<polygon points="424.2,93.0 438.8,103.2 450.5,110.5 443.2,114.9 431.5,107.6 421.3,98.8" fill="#fff" fill-opacity="0.30"/>
</g>
</g>
<line x1="310" y1="200.4" x2="489" y2="200.4" stroke="#9a9a9a" stroke-width="1.3"/>
<line x1="314.00" y1="200.4" x2="314.00" y2="204.4" stroke="#9a9a9a" stroke-width="1"/>
<text x="314.00" y="216.20" font-size="8.6" text-anchor="middle">−15</text>
<line x1="351.20" y1="200.4" x2="351.20" y2="204.4" stroke="#9a9a9a" stroke-width="1"/>
<text x="351.20" y="216.20" font-size="8.6" text-anchor="middle">−10</text>
<line x1="388.40" y1="200.4" x2="388.40" y2="204.4" stroke="#9a9a9a" stroke-width="1"/>
<text x="388.40" y="216.20" font-size="8.6" text-anchor="middle">−5</text>
<line x1="425.60" y1="200.4" x2="425.60" y2="204.4" stroke="#9a9a9a" stroke-width="1"/>
<text x="425.60" y="216.20" font-size="8.6" text-anchor="middle">0</text>
<line x1="462.80" y1="200.4" x2="462.80" y2="204.4" stroke="#9a9a9a" stroke-width="1"/>
<text x="462.80" y="216.20" font-size="8.6" text-anchor="middle">5</text>
<text x="400.00" y="232.00" font-size="10.2" text-anchor="middle" textLength="38" lengthAdjust="spacingAndGlyphs">UMAP_1</text>
<line x1="310" y1="12" x2="310" y2="200.4" stroke="#9a9a9a" stroke-width="1.3"/>
<line x1="306" y1="59.20" x2="310" y2="59.20" stroke="#9a9a9a" stroke-width="1"/>
<text x="302.00" y="62.30" font-size="8.6" text-anchor="end">10</text>
<line x1="306" y1="120.80" x2="310" y2="120.80" stroke="#9a9a9a" stroke-width="1"/>
<text x="302.00" y="123.90" font-size="8.6" text-anchor="end">0</text>
<line x1="306" y1="182.40" x2="310" y2="182.40" stroke="#9a9a9a" stroke-width="1"/>
<text x="302.00" y="185.50" font-size="8.6" text-anchor="end">−10</text>
<text x="283.80" y="105.50" font-size="10.4" text-anchor="middle" transform="rotate(-90 283.80 105.50)" textLength="39" lengthAdjust="spacingAndGlyphs">UMAP_2</text>
<line x1="495" y1="200.4" x2="674" y2="200.4" stroke="#9a9a9a" stroke-width="1.3"/>
<line x1="499.00" y1="200.4" x2="499.00" y2="204.4" stroke="#9a9a9a" stroke-width="1"/>
<text x="499.00" y="216.20" font-size="8.6" text-anchor="middle">−15</text>
<line x1="536.20" y1="200.4" x2="536.20" y2="204.4" stroke="#9a9a9a" stroke-width="1"/>
<text x="536.20" y="216.20" font-size="8.6" text-anchor="middle">−10</text>
<line x1="573.40" y1="200.4" x2="573.40" y2="204.4" stroke="#9a9a9a" stroke-width="1"/>
<text x="573.40" y="216.20" font-size="8.6" text-anchor="middle">−5</text>
<line x1="610.60" y1="200.4" x2="610.60" y2="204.4" stroke="#9a9a9a" stroke-width="1"/>
<text x="610.60" y="216.20" font-size="8.6" text-anchor="middle">0</text>
<line x1="647.80" y1="200.4" x2="647.80" y2="204.4" stroke="#9a9a9a" stroke-width="1"/>
<text x="647.80" y="216.20" font-size="8.6" text-anchor="middle">5</text>
<text x="585.00" y="232.00" font-size="10.2" text-anchor="middle" textLength="38" lengthAdjust="spacingAndGlyphs">UMAP_1</text>
<line x1="310" y1="446.4" x2="489" y2="446.4" stroke="#9a9a9a" stroke-width="1.3"/>
<line x1="314.00" y1="446.4" x2="314.00" y2="450.4" stroke="#9a9a9a" stroke-width="1"/>
<text x="314.00" y="462.20" font-size="8.6" text-anchor="middle">−15</text>
<line x1="351.20" y1="446.4" x2="351.20" y2="450.4" stroke="#9a9a9a" stroke-width="1"/>
<text x="351.20" y="462.20" font-size="8.6" text-anchor="middle">−10</text>
<line x1="388.40" y1="446.4" x2="388.40" y2="450.4" stroke="#9a9a9a" stroke-width="1"/>
<text x="388.40" y="462.20" font-size="8.6" text-anchor="middle">−5</text>
<line x1="425.60" y1="446.4" x2="425.60" y2="450.4" stroke="#9a9a9a" stroke-width="1"/>
<text x="425.60" y="462.20" font-size="8.6" text-anchor="middle">0</text>
<line x1="462.80" y1="446.4" x2="462.80" y2="450.4" stroke="#9a9a9a" stroke-width="1"/>
<text x="462.80" y="462.20" font-size="8.6" text-anchor="middle">5</text>
<text x="400.00" y="478.00" font-size="10.2" text-anchor="middle" textLength="38" lengthAdjust="spacingAndGlyphs">UMAP_1</text>
<line x1="310" y1="258" x2="310" y2="446.4" stroke="#9a9a9a" stroke-width="1.3"/>
<line x1="306" y1="305.20" x2="310" y2="305.20" stroke="#9a9a9a" stroke-width="1"/>
<text x="302.00" y="308.30" font-size="8.6" text-anchor="end">10</text>
<line x1="306" y1="366.80" x2="310" y2="366.80" stroke="#9a9a9a" stroke-width="1"/>
<text x="302.00" y="369.90" font-size="8.6" text-anchor="end">0</text>
<line x1="306" y1="428.40" x2="310" y2="428.40" stroke="#9a9a9a" stroke-width="1"/>
<text x="302.00" y="431.50" font-size="8.6" text-anchor="end">−10</text>
<text x="283.80" y="351.50" font-size="10.4" text-anchor="middle" transform="rotate(-90 283.80 351.50)" textLength="39" lengthAdjust="spacingAndGlyphs">UMAP_2</text>
<line x1="495" y1="446.4" x2="674" y2="446.4" stroke="#9a9a9a" stroke-width="1.3"/>
<line x1="499.00" y1="446.4" x2="499.00" y2="450.4" stroke="#9a9a9a" stroke-width="1"/>
<text x="499.00" y="462.20" font-size="8.6" text-anchor="middle">−15</text>
<line x1="536.20" y1="446.4" x2="536.20" y2="450.4" stroke="#9a9a9a" stroke-width="1"/>
<text x="536.20" y="462.20" font-size="8.6" text-anchor="middle">−10</text>
<line x1="573.40" y1="446.4" x2="573.40" y2="450.4" stroke="#9a9a9a" stroke-width="1"/>
<text x="573.40" y="462.20" font-size="8.6" text-anchor="middle">−5</text>
<line x1="610.60" y1="446.4" x2="610.60" y2="450.4" stroke="#9a9a9a" stroke-width="1"/>
<text x="610.60" y="462.20" font-size="8.6" text-anchor="middle">0</text>
<line x1="647.80" y1="446.4" x2="647.80" y2="450.4" stroke="#9a9a9a" stroke-width="1"/>
<text x="647.80" y="462.20" font-size="8.6" text-anchor="middle">5</text>
<text x="585.00" y="478.00" font-size="10.2" text-anchor="middle" textLength="38" lengthAdjust="spacingAndGlyphs">UMAP_1</text>
<text x="313.60" y="12.80" font-size="10" textLength="147" lengthAdjust="spacingAndGlyphs">D1, 3 replicates, 22,962 nuclei</text>
<text x="499.20" y="11.50" font-size="10" textLength="149.8" lengthAdjust="spacingAndGlyphs">D6, 3 replicates, 27,688 nuclei</text>
<text x="315.00" y="259.50" font-size="10" textLength="153.4" lengthAdjust="spacingAndGlyphs">D12, 3 replicates, 23,100 nuclei</text>
<text x="499.20" y="259.80" font-size="10" textLength="148.1" lengthAdjust="spacingAndGlyphs">D14, 3 replicates, 7,450 nuclei</text>
<text x="0.50" y="505.50" font-size="17" font-weight="bold" stroke="#000" stroke-width="0.9">c</text>
<line x1="57.6" y1="505.04999999999995" x2="57.6" y2="673" stroke="#6b6b6b" stroke-width="0.8"/>
<line x1="57.6" y1="673" x2="677" y2="673" stroke="#6b6b6b" stroke-width="0.8"/>
<line x1="52.6" y1="672.80" x2="57.6" y2="672.80" stroke="#6b6b6b" stroke-width="0.8"/>
<text x="48.50" y="676.10" font-size="9.2" text-anchor="end">0</text>
<line x1="52.6" y1="639.25" x2="57.6" y2="639.25" stroke="#6b6b6b" stroke-width="0.8"/>
<text x="48.50" y="642.55" font-size="9.2" text-anchor="end">10</text>
<line x1="52.6" y1="605.70" x2="57.6" y2="605.70" stroke="#6b6b6b" stroke-width="0.8"/>
<text x="48.50" y="609.00" font-size="9.2" text-anchor="end">20</text>
<line x1="52.6" y1="572.15" x2="57.6" y2="572.15" stroke="#6b6b6b" stroke-width="0.8"/>
<text x="48.50" y="575.45" font-size="9.2" text-anchor="end">30</text>
<line x1="52.6" y1="538.60" x2="57.6" y2="538.60" stroke="#6b6b6b" stroke-width="0.8"/>
<text x="48.50" y="541.90" font-size="9.2" text-anchor="end">40</text>
<line x1="52.6" y1="505.05" x2="57.6" y2="505.05" stroke="#6b6b6b" stroke-width="0.8"/>
<text x="48.50" y="508.35" font-size="9.2" text-anchor="end">50</text>
<text x="28.80" y="590.00" font-size="9.5" text-anchor="middle" transform="rotate(-90 28.80 590.00)" textLength="120" lengthAdjust="spacingAndGlyphs">Total somatic nuclei (%)</text>
<circle cx="72.6" cy="506.2" r="2.6" fill="#fbf55a"/>
<text x="80.70" y="509.00" font-size="8.2">Day 1</text>
<circle cx="72.6" cy="520" r="2.6" fill="#9fdab6"/>
<text x="80.70" y="522.80" font-size="8.2">Day 6</text>
<circle cx="72.6" cy="534.3" r="2.6" fill="#3fb6c6"/>
<text x="80.70" y="537.10" font-size="8.2">Day 12</text>
<circle cx="72.6" cy="548.4" r="2.6" fill="#2157a6"/>
<text x="80.70" y="551.20" font-size="8.2">Day 14</text>
<line x1="81.40" y1="673" x2="81.40" y2="677.6" stroke="#6b6b6b" stroke-width="0.8"/>
<text x="86.10" y="686.30" font-size="10" text-anchor="end" transform="rotate(-45 86.10 686.30)" textLength="19.38" lengthAdjust="spacingAndGlyphs">Glia</text>
<line x1="133.27" y1="673" x2="133.27" y2="677.6" stroke="#6b6b6b" stroke-width="0.8"/>
<text x="137.97" y="686.30" font-size="10" text-anchor="end" transform="rotate(-45 137.97 686.30)" textLength="78.75" lengthAdjust="spacingAndGlyphs">Excretory gland/</text>
<line x1="185.14" y1="673" x2="185.14" y2="677.6" stroke="#6b6b6b" stroke-width="0.8"/>
<text x="189.84" y="686.30" font-size="10" text-anchor="end" transform="rotate(-45 189.84 686.30)" textLength="64.82" lengthAdjust="spacingAndGlyphs">Uterine seam</text>
<line x1="237.01" y1="673" x2="237.01" y2="677.6" stroke="#6b6b6b" stroke-width="0.8"/>
<text x="241.71" y="686.30" font-size="10" text-anchor="end" transform="rotate(-45 241.71 686.30)" textLength="63.61" lengthAdjust="spacingAndGlyphs">Coelomocyte</text>
<line x1="288.88" y1="673" x2="288.88" y2="677.6" stroke="#6b6b6b" stroke-width="0.8"/>
<text x="293.58" y="686.30" font-size="10" text-anchor="end" transform="rotate(-45 293.58 686.30)" textLength="39.98" lengthAdjust="spacingAndGlyphs">Pharynx</text>
<line x1="340.75" y1="673" x2="340.75" y2="677.6" stroke="#6b6b6b" stroke-width="0.8"/>
<text x="345.45" y="686.30" font-size="10" text-anchor="end" transform="rotate(-45 345.45 686.30)" textLength="76.96" lengthAdjust="spacingAndGlyphs">Gonadal sheath</text>
<line x1="392.62" y1="673" x2="392.62" y2="677.6" stroke="#6b6b6b" stroke-width="0.8"/>
<text x="397.32" y="686.30" font-size="10" text-anchor="end" transform="rotate(-45 397.32 686.30)" textLength="60.18" lengthAdjust="spacingAndGlyphs">Vulva/uterus</text>
<line x1="444.49" y1="673" x2="444.49" y2="677.6" stroke="#6b6b6b" stroke-width="0.8"/>
<text x="449.19" y="686.30" font-size="10" text-anchor="end" transform="rotate(-45 449.19 686.30)" textLength="64.83" lengthAdjust="spacingAndGlyphs">Spermatheca</text>
<line x1="496.36" y1="673" x2="496.36" y2="677.6" stroke="#6b6b6b" stroke-width="0.8"/>
<text x="501.06" y="686.30" font-size="10" text-anchor="end" transform="rotate(-45 501.06 686.30)" textLength="41.2" lengthAdjust="spacingAndGlyphs">Intestine</text>
<line x1="548.23" y1="673" x2="548.23" y2="677.6" stroke="#6b6b6b" stroke-width="0.8"/>
<text x="552.93" y="686.30" font-size="10" text-anchor="end" transform="rotate(-45 552.93 686.30)" textLength="35.75" lengthAdjust="spacingAndGlyphs">Neuron</text>
<line x1="600.10" y1="673" x2="600.10" y2="677.6" stroke="#6b6b6b" stroke-width="0.8"/>
<text x="604.80" y="686.30" font-size="10" text-anchor="end" transform="rotate(-45 604.80 686.30)" textLength="34.52" lengthAdjust="spacingAndGlyphs">Muscle</text>
<line x1="651.97" y1="673" x2="651.97" y2="677.6" stroke="#6b6b6b" stroke-width="0.8"/>
<text x="656.67" y="686.30" font-size="10" text-anchor="end" transform="rotate(-45 656.67 686.30)" textLength="58.15" lengthAdjust="spacingAndGlyphs">Hypodermis</text>
<text x="148.97" y="696.80" font-size="10" text-anchor="end" transform="rotate(-45 148.97 696.80)" textLength="22.4" lengthAdjust="spacingAndGlyphs">DTC</text>
<line x1="220.01" y1="660" x2="220.01" y2="671.5" stroke="#1a1a1a" stroke-width="0.8"/>
<line x1="216.01" y1="665.6" x2="224.01" y2="665.6" stroke="#1a1a1a" stroke-width="0.8"/>
<line x1="217.61" y1="660" x2="222.41" y2="660" stroke="#1a1a1a" stroke-width="0.8"/>
<line x1="217.61" y1="671.5" x2="222.41" y2="671.5" stroke="#1a1a1a" stroke-width="0.8"/>
<line x1="271.88" y1="652" x2="271.88" y2="666" stroke="#1a1a1a" stroke-width="0.8"/>
<line x1="267.88" y1="659" x2="275.88" y2="659" stroke="#1a1a1a" stroke-width="0.8"/>
<line x1="269.48" y1="652" x2="274.28" y2="652" stroke="#1a1a1a" stroke-width="0.8"/>
<line x1="269.48" y1="666" x2="274.28" y2="666" stroke="#1a1a1a" stroke-width="0.8"/>
<line x1="282.88" y1="650" x2="282.88" y2="654" stroke="#1a1a1a" stroke-width="0.8"/>
<line x1="278.88" y1="652" x2="286.88" y2="652" stroke="#1a1a1a" stroke-width="0.8"/>
<line x1="280.48" y1="650" x2="285.28" y2="650" stroke="#1a1a1a" stroke-width="0.8"/>
<line x1="280.48" y1="654" x2="285.28" y2="654" stroke="#1a1a1a" stroke-width="0.8"/>
<line x1="294.08" y1="657.5" x2="294.08" y2="663.5" stroke="#1a1a1a" stroke-width="0.8"/>
<line x1="290.08" y1="660.5" x2="298.08" y2="660.5" stroke="#1a1a1a" stroke-width="0.8"/>
<line x1="291.68" y1="657.5" x2="296.48" y2="657.5" stroke="#1a1a1a" stroke-width="0.8"/>
<line x1="291.68" y1="663.5" x2="296.48" y2="663.5" stroke="#1a1a1a" stroke-width="0.8"/>
<line x1="305.48" y1="655.5" x2="305.48" y2="657.5" stroke="#1a1a1a" stroke-width="0.8"/>
<line x1="301.48" y1="656.5" x2="309.48" y2="656.5" stroke="#1a1a1a" stroke-width="0.8"/>
<line x1="303.08" y1="655.5" x2="307.88" y2="655.5" stroke="#1a1a1a" stroke-width="0.8"/>
<line x1="303.08" y1="657.5" x2="307.88" y2="657.5" stroke="#1a1a1a" stroke-width="0.8"/>
<line x1="323.75" y1="646" x2="323.75" y2="666" stroke="#1a1a1a" stroke-width="0.8"/>
<line x1="319.75" y1="656.6" x2="327.75" y2="656.6" stroke="#1a1a1a" stroke-width="0.8"/>
<line x1="321.35" y1="646" x2="326.15" y2="646" stroke="#1a1a1a" stroke-width="0.8"/>
<line x1="321.35" y1="666" x2="326.15" y2="666" stroke="#1a1a1a" stroke-width="0.8"/>
<line x1="334.75" y1="662" x2="334.75" y2="668" stroke="#1a1a1a" stroke-width="0.8"/>
<line x1="330.75" y1="665" x2="338.75" y2="665" stroke="#1a1a1a" stroke-width="0.8"/>
<line x1="332.35" y1="662" x2="337.15" y2="662" stroke="#1a1a1a" stroke-width="0.8"/>
<line x1="332.35" y1="668" x2="337.15" y2="668" stroke="#1a1a1a" stroke-width="0.8"/>
<line x1="375.62" y1="647" x2="375.62" y2="656" stroke="#1a1a1a" stroke-width="0.8"/>
<line x1="371.62" y1="651.5" x2="379.62" y2="651.5" stroke="#1a1a1a" stroke-width="0.8"/>
<line x1="373.22" y1="647" x2="378.02" y2="647" stroke="#1a1a1a" stroke-width="0.8"/>
<line x1="373.22" y1="656" x2="378.02" y2="656" stroke="#1a1a1a" stroke-width="0.8"/>
<line x1="409.22" y1="631.6" x2="409.22" y2="665.4" stroke="#1a1a1a" stroke-width="0.8"/>
<line x1="405.22" y1="649.4" x2="413.22" y2="649.4" stroke="#1a1a1a" stroke-width="0.8"/>
<line x1="406.82" y1="631.6" x2="411.62" y2="631.6" stroke="#1a1a1a" stroke-width="0.8"/>
<line x1="406.82" y1="665.4" x2="411.62" y2="665.4" stroke="#1a1a1a" stroke-width="0.8"/>
<line x1="427.49" y1="647" x2="427.49" y2="654" stroke="#1a1a1a" stroke-width="0.8"/>
<line x1="423.49" y1="650.4" x2="431.49" y2="650.4" stroke="#1a1a1a" stroke-width="0.8"/>
<line x1="425.09" y1="647" x2="429.89" y2="647" stroke="#1a1a1a" stroke-width="0.8"/>
<line x1="425.09" y1="654" x2="429.89" y2="654" stroke="#1a1a1a" stroke-width="0.8"/>
<line x1="479.36" y1="632" x2="479.36" y2="641" stroke="#1a1a1a" stroke-width="0.8"/>
<line x1="475.36" y1="636.6" x2="483.36" y2="636.6" stroke="#1a1a1a" stroke-width="0.8"/>
<line x1="476.96" y1="632" x2="481.76" y2="632" stroke="#1a1a1a" stroke-width="0.8"/>
<line x1="476.96" y1="641" x2="481.76" y2="641" stroke="#1a1a1a" stroke-width="0.8"/>
<line x1="501.56" y1="631" x2="501.56" y2="654" stroke="#1a1a1a" stroke-width="0.8"/>
<line x1="497.56" y1="643.6" x2="505.56" y2="643.6" stroke="#1a1a1a" stroke-width="0.8"/>
<line x1="499.16" y1="631" x2="503.96" y2="631" stroke="#1a1a1a" stroke-width="0.8"/>
<line x1="499.16" y1="654" x2="503.96" y2="654" stroke="#1a1a1a" stroke-width="0.8"/>
<line x1="512.96" y1="632.6" x2="512.96" y2="648" stroke="#1a1a1a" stroke-width="0.8"/>
<line x1="508.96" y1="641.6" x2="516.96" y2="641.6" stroke="#1a1a1a" stroke-width="0.8"/>
<line x1="510.56" y1="632.6" x2="515.36" y2="632.6" stroke="#1a1a1a" stroke-width="0.8"/>
<line x1="510.56" y1="648" x2="515.36" y2="648" stroke="#1a1a1a" stroke-width="0.8"/>
<line x1="531.23" y1="620.6" x2="531.23" y2="645" stroke="#1a1a1a" stroke-width="0.8"/>
<line x1="527.23" y1="633" x2="535.23" y2="633" stroke="#1a1a1a" stroke-width="0.8"/>
<line x1="528.83" y1="620.6" x2="533.63" y2="620.6" stroke="#1a1a1a" stroke-width="0.8"/>
<line x1="528.83" y1="645" x2="533.63" y2="645" stroke="#1a1a1a" stroke-width="0.8"/>
<line x1="542.23" y1="600" x2="542.23" y2="624" stroke="#1a1a1a" stroke-width="0.8"/>
<line x1="538.23" y1="612" x2="546.23" y2="612" stroke="#1a1a1a" stroke-width="0.8"/>
<line x1="539.83" y1="600" x2="544.63" y2="600" stroke="#1a1a1a" stroke-width="0.8"/>
<line x1="539.83" y1="624" x2="544.63" y2="624" stroke="#1a1a1a" stroke-width="0.8"/>
<line x1="553.43" y1="578.5" x2="553.43" y2="604" stroke="#1a1a1a" stroke-width="0.8"/>
<line x1="549.43" y1="591.6" x2="557.43" y2="591.6" stroke="#1a1a1a" stroke-width="0.8"/>
<line x1="551.03" y1="578.5" x2="555.83" y2="578.5" stroke="#1a1a1a" stroke-width="0.8"/>
<line x1="551.03" y1="604" x2="555.83" y2="604" stroke="#1a1a1a" stroke-width="0.8"/>
<line x1="564.83" y1="609" x2="564.83" y2="612" stroke="#1a1a1a" stroke-width="0.8"/>
<line x1="560.83" y1="610.5" x2="568.83" y2="610.5" stroke="#1a1a1a" stroke-width="0.8"/>
<line x1="562.43" y1="609" x2="567.23" y2="609" stroke="#1a1a1a" stroke-width="0.8"/>
<line x1="562.43" y1="612" x2="567.23" y2="612" stroke="#1a1a1a" stroke-width="0.8"/>
<line x1="583.10" y1="605" x2="583.10" y2="630" stroke="#1a1a1a" stroke-width="0.8"/>
<line x1="579.10" y1="616.2" x2="587.10" y2="616.2" stroke="#1a1a1a" stroke-width="0.8"/>
<line x1="580.70" y1="605" x2="585.50" y2="605" stroke="#1a1a1a" stroke-width="0.8"/>
<line x1="580.70" y1="630" x2="585.50" y2="630" stroke="#1a1a1a" stroke-width="0.8"/>
<line x1="594.10" y1="605" x2="594.10" y2="618.6" stroke="#1a1a1a" stroke-width="0.8"/>
<line x1="590.10" y1="611.7" x2="598.10" y2="611.7" stroke="#1a1a1a" stroke-width="0.8"/>
<line x1="591.70" y1="605" x2="596.50" y2="605" stroke="#1a1a1a" stroke-width="0.8"/>
<line x1="591.70" y1="618.6" x2="596.50" y2="618.6" stroke="#1a1a1a" stroke-width="0.8"/>
<line x1="605.30" y1="589.4" x2="605.30" y2="629.6" stroke="#1a1a1a" stroke-width="0.8"/>
<line x1="601.30" y1="608.6" x2="609.30" y2="608.6" stroke="#1a1a1a" stroke-width="0.8"/>
<line x1="602.90" y1="589.4" x2="607.70" y2="589.4" stroke="#1a1a1a" stroke-width="0.8"/>
<line x1="602.90" y1="629.6" x2="607.70" y2="629.6" stroke="#1a1a1a" stroke-width="0.8"/>
<line x1="616.70" y1="602.2" x2="616.70" y2="611.7" stroke="#1a1a1a" stroke-width="0.8"/>
<line x1="612.70" y1="608.6" x2="620.70" y2="608.6" stroke="#1a1a1a" stroke-width="0.8"/>
<line x1="614.30" y1="602.2" x2="619.10" y2="602.2" stroke="#1a1a1a" stroke-width="0.8"/>
<line x1="614.30" y1="611.7" x2="619.10" y2="611.7" stroke="#1a1a1a" stroke-width="0.8"/>
<line x1="634.97" y1="537.4" x2="634.97" y2="584.9" stroke="#1a1a1a" stroke-width="0.8"/>
<line x1="630.97" y1="561.5" x2="638.97" y2="561.5" stroke="#1a1a1a" stroke-width="0.8"/>
<line x1="632.57" y1="537.4" x2="637.37" y2="537.4" stroke="#1a1a1a" stroke-width="0.8"/>
<line x1="632.57" y1="584.9" x2="637.37" y2="584.9" stroke="#1a1a1a" stroke-width="0.8"/>
<line x1="645.97" y1="565.3" x2="645.97" y2="578.5" stroke="#1a1a1a" stroke-width="0.8"/>
<line x1="641.97" y1="571.7" x2="649.97" y2="571.7" stroke="#1a1a1a" stroke-width="0.8"/>
<line x1="643.57" y1="565.3" x2="648.37" y2="565.3" stroke="#1a1a1a" stroke-width="0.8"/>
<line x1="643.57" y1="578.5" x2="648.37" y2="578.5" stroke="#1a1a1a" stroke-width="0.8"/>
<line x1="657.17" y1="561" x2="657.17" y2="567.5" stroke="#1a1a1a" stroke-width="0.8"/>
<line x1="653.17" y1="564.7" x2="661.17" y2="564.7" stroke="#1a1a1a" stroke-width="0.8"/>
<line x1="654.77" y1="561" x2="659.57" y2="561" stroke="#1a1a1a" stroke-width="0.8"/>
<line x1="654.77" y1="567.5" x2="659.57" y2="567.5" stroke="#1a1a1a" stroke-width="0.8"/>
<line x1="668.57" y1="549.8" x2="668.57" y2="577.6" stroke="#1a1a1a" stroke-width="0.8"/>
<line x1="664.57" y1="561.5" x2="672.57" y2="561.5" stroke="#1a1a1a" stroke-width="0.8"/>
<line x1="666.17" y1="549.8" x2="670.97" y2="549.8" stroke="#1a1a1a" stroke-width="0.8"/>
<line x1="666.17" y1="577.6" x2="670.97" y2="577.6" stroke="#1a1a1a" stroke-width="0.8"/>
<circle cx="64.40" cy="671.5" r="3.3" fill="#fbf55a"/>
<circle cx="75.40" cy="671.5" r="3.3" fill="#9fdab6"/>
<circle cx="76.20" cy="672" r="3.3" fill="#9fdab6"/>
<circle cx="86.60" cy="672" r="3.3" fill="#3fb6c6"/>
<circle cx="87.40" cy="671.5" r="3.3" fill="#3fb6c6"/>
<circle cx="98.00" cy="669.5" r="3.3" fill="#2157a6"/>
<circle cx="98.80" cy="671.5" r="3.3" fill="#2157a6"/>
<circle cx="116.27" cy="670.6" r="3.3" fill="#fbf55a"/>
<circle cx="117.07" cy="671" r="3.3" fill="#fbf55a"/>
<circle cx="127.27" cy="671.4" r="3.3" fill="#9fdab6"/>
<circle cx="138.47" cy="670.6" r="3.3" fill="#3fb6c6"/>
<circle cx="139.27" cy="669.5" r="3.3" fill="#3fb6c6"/>
<circle cx="149.87" cy="667.5" r="3.3" fill="#2157a6"/>
<circle cx="150.67" cy="670.5" r="3.3" fill="#2157a6"/>
<circle cx="168.14" cy="671" r="3.3" fill="#fbf55a"/>
<circle cx="168.94" cy="670" r="3.3" fill="#fbf55a"/>
<circle cx="179.14" cy="667.2" r="3.3" fill="#9fdab6"/>
<circle cx="179.94" cy="668" r="3.3" fill="#9fdab6"/>
<circle cx="190.34" cy="668" r="3.3" fill="#3fb6c6"/>
<circle cx="191.14" cy="672.4" r="3.3" fill="#3fb6c6"/>
<circle cx="189.54" cy="667.5" r="3.3" fill="#3fb6c6"/>
<circle cx="201.74" cy="668" r="3.3" fill="#2157a6"/>
<circle cx="202.54" cy="668.5" r="3.3" fill="#2157a6"/>
<circle cx="220.01" cy="657.4" r="3.3" fill="#fbf55a"/>
<circle cx="220.81" cy="667" r="3.3" fill="#fbf55a"/>
<circle cx="219.21" cy="667.5" r="3.3" fill="#fbf55a"/>
<circle cx="231.01" cy="669.4" r="3.3" fill="#9fdab6"/>
<circle cx="231.81" cy="668.5" r="3.3" fill="#9fdab6"/>
<circle cx="242.21" cy="667" r="3.3" fill="#3fb6c6"/>
<circle cx="243.01" cy="666" r="3.3" fill="#3fb6c6"/>
<circle cx="253.61" cy="670.4" r="3.3" fill="#2157a6"/>
<circle cx="254.41" cy="669.5" r="3.3" fill="#2157a6"/>
<circle cx="271.88" cy="651" r="3.3" fill="#fbf55a"/>
<circle cx="272.68" cy="659.6" r="3.3" fill="#fbf55a"/>
<circle cx="271.08" cy="665" r="3.3" fill="#fbf55a"/>
<circle cx="282.88" cy="650" r="3.3" fill="#9fdab6"/>
<circle cx="283.68" cy="654" r="3.3" fill="#9fdab6"/>
<circle cx="294.08" cy="658.6" r="3.3" fill="#3fb6c6"/>
<circle cx="294.88" cy="662.4" r="3.3" fill="#3fb6c6"/>
<circle cx="305.48" cy="656" r="3.3" fill="#2157a6"/>
<circle cx="306.28" cy="657" r="3.3" fill="#2157a6"/>
<circle cx="323.75" cy="646" r="3.3" fill="#fbf55a"/>
<circle cx="324.55" cy="658" r="3.3" fill="#fbf55a"/>
<circle cx="322.95" cy="665.4" r="3.3" fill="#fbf55a"/>
<circle cx="334.75" cy="662" r="3.3" fill="#9fdab6"/>
<circle cx="335.55" cy="668.4" r="3.3" fill="#9fdab6"/>
<circle cx="345.95" cy="667" r="3.3" fill="#3fb6c6"/>
<circle cx="346.75" cy="666.5" r="3.3" fill="#3fb6c6"/>
<circle cx="357.35" cy="665" r="3.3" fill="#2157a6"/>
<circle cx="358.15" cy="664" r="3.3" fill="#2157a6"/>
<circle cx="375.62" cy="646.6" r="3.3" fill="#fbf55a"/>
<circle cx="376.42" cy="651.4" r="3.3" fill="#fbf55a"/>
<circle cx="374.82" cy="657" r="3.3" fill="#fbf55a"/>
<circle cx="386.62" cy="652.6" r="3.3" fill="#9fdab6"/>
<circle cx="387.42" cy="652" r="3.3" fill="#9fdab6"/>
<circle cx="397.82" cy="656" r="3.3" fill="#3fb6c6"/>
<circle cx="398.62" cy="659" r="3.3" fill="#3fb6c6"/>
<circle cx="409.22" cy="631.6" r="3.3" fill="#2157a6"/>
<circle cx="410.02" cy="658.6" r="3.3" fill="#2157a6"/>
<circle cx="408.42" cy="659.4" r="3.3" fill="#2157a6"/>
<circle cx="427.49" cy="647.6" r="3.3" fill="#fbf55a"/>
<circle cx="428.29" cy="649" r="3.3" fill="#fbf55a"/>
<circle cx="426.69" cy="655.6" r="3.3" fill="#fbf55a"/>
<circle cx="438.49" cy="664" r="3.3" fill="#9fdab6"/>
<circle cx="449.69" cy="670" r="3.3" fill="#3fb6c6"/>
<circle cx="450.49" cy="669.5" r="3.3" fill="#3fb6c6"/>
<circle cx="461.09" cy="667" r="3.3" fill="#2157a6"/>
<circle cx="461.89" cy="670.6" r="3.3" fill="#2157a6"/>
<circle cx="479.36" cy="633" r="3.3" fill="#fbf55a"/>
<circle cx="480.16" cy="633.6" r="3.3" fill="#fbf55a"/>
<circle cx="478.56" cy="642" r="3.3" fill="#fbf55a"/>
<circle cx="490.36" cy="632" r="3.3" fill="#9fdab6"/>
<circle cx="491.16" cy="634" r="3.3" fill="#9fdab6"/>
<circle cx="501.56" cy="631" r="3.3" fill="#3fb6c6"/>
<circle cx="502.36" cy="648" r="3.3" fill="#3fb6c6"/>
<circle cx="500.76" cy="651.6" r="3.3" fill="#3fb6c6"/>
<circle cx="512.96" cy="632.6" r="3.3" fill="#2157a6"/>
<circle cx="513.76" cy="643" r="3.3" fill="#2157a6"/>
<circle cx="512.16" cy="646.6" r="3.3" fill="#2157a6"/>
<circle cx="531.23" cy="625" r="3.3" fill="#fbf55a"/>
<circle cx="532.03" cy="626.4" r="3.3" fill="#fbf55a"/>
<circle cx="530.43" cy="648" r="3.3" fill="#fbf55a"/>
<circle cx="542.23" cy="595.6" r="3.3" fill="#9fdab6"/>
<circle cx="543.03" cy="616" r="3.3" fill="#9fdab6"/>
<circle cx="541.43" cy="624.4" r="3.3" fill="#9fdab6"/>
<circle cx="553.43" cy="577" r="3.3" fill="#3fb6c6"/>
<circle cx="554.23" cy="598" r="3.3" fill="#3fb6c6"/>
<circle cx="552.63" cy="599.4" r="3.3" fill="#3fb6c6"/>
<circle cx="564.83" cy="609" r="3.3" fill="#2157a6"/>
<circle cx="565.63" cy="612.4" r="3.3" fill="#2157a6"/>
<circle cx="564.03" cy="610" r="3.3" fill="#2157a6"/>
<circle cx="583.10" cy="608.2" r="3.3" fill="#fbf55a"/>
<circle cx="583.90" cy="611" r="3.3" fill="#fbf55a"/>
<circle cx="582.30" cy="630" r="3.3" fill="#fbf55a"/>
<circle cx="594.10" cy="605" r="3.3" fill="#9fdab6"/>
<circle cx="594.90" cy="611.7" r="3.3" fill="#9fdab6"/>
<circle cx="593.30" cy="618.6" r="3.3" fill="#9fdab6"/>
<circle cx="605.30" cy="596.7" r="3.3" fill="#3fb6c6"/>
<circle cx="606.10" cy="597.6" r="3.3" fill="#3fb6c6"/>
<circle cx="604.50" cy="631.4" r="3.3" fill="#3fb6c6"/>
<circle cx="616.70" cy="602.2" r="3.3" fill="#2157a6"/>
<circle cx="617.50" cy="609.5" r="3.3" fill="#2157a6"/>
<circle cx="615.90" cy="611.7" r="3.3" fill="#2157a6"/>
<circle cx="634.97" cy="533.8" r="3.3" fill="#fbf55a"/>
<circle cx="635.77" cy="572.6" r="3.3" fill="#fbf55a"/>
<circle cx="634.17" cy="577" r="3.3" fill="#fbf55a"/>
<circle cx="645.97" cy="565.3" r="3.3" fill="#9fdab6"/>
<circle cx="646.77" cy="569" r="3.3" fill="#9fdab6"/>
<circle cx="645.17" cy="580.8" r="3.3" fill="#9fdab6"/>
<circle cx="657.17" cy="561" r="3.3" fill="#3fb6c6"/>
<circle cx="657.97" cy="565.7" r="3.3" fill="#3fb6c6"/>
<circle cx="656.37" cy="567.5" r="3.3" fill="#3fb6c6"/>
<circle cx="668.57" cy="549.8" r="3.3" fill="#2157a6"/>
<circle cx="669.37" cy="557.5" r="3.3" fill="#2157a6"/>
<circle cx="667.77" cy="577.6" r="3.3" fill="#2157a6"/>
<line x1="62" y1="660.4" x2="99.4" y2="660.4" stroke="#7a7a7a" stroke-width="0.9"/>
<text x="80.70" y="658.00" font-size="7" text-anchor="middle" textLength="9.4" lengthAdjust="spacingAndGlyphs">NS</text>
<line x1="112.4" y1="660.4" x2="149.6" y2="660.4" stroke="#7a7a7a" stroke-width="0.9"/>
<text x="131.00" y="658.00" font-size="7" text-anchor="middle" textLength="9.4" lengthAdjust="spacingAndGlyphs">NS</text>
<line x1="165" y1="653.4" x2="202.4" y2="653.4" stroke="#7a7a7a" stroke-width="0.9"/>
<text x="183.70" y="651.00" font-size="7" text-anchor="middle" textLength="9.4" lengthAdjust="spacingAndGlyphs">NS</text>
<line x1="218.4" y1="637.8" x2="255.6" y2="637.8" stroke="#7a7a7a" stroke-width="0.9"/>
<text x="237.00" y="635.40" font-size="7" text-anchor="middle" textLength="9.4" lengthAdjust="spacingAndGlyphs">NS</text>
<line x1="270" y1="636.4" x2="307.4" y2="636.4" stroke="#7a7a7a" stroke-width="0.9"/>
<text x="288.70" y="634.00" font-size="7" text-anchor="middle" textLength="9.4" lengthAdjust="spacingAndGlyphs">NS</text>
<line x1="322" y1="629.6" x2="359.4" y2="629.6" stroke="#7a7a7a" stroke-width="0.9"/>
<text x="340.70" y="627.20" font-size="7" text-anchor="middle" textLength="9.4" lengthAdjust="spacingAndGlyphs">NS</text>
<line x1="370" y1="621.4" x2="407.4" y2="621.4" stroke="#7a7a7a" stroke-width="0.9"/>
<text x="388.70" y="619.00" font-size="7" text-anchor="middle" textLength="9.4" lengthAdjust="spacingAndGlyphs">NS</text>
<line x1="479.4" y1="599" x2="517" y2="599" stroke="#7a7a7a" stroke-width="0.9"/>
<text x="498.20" y="596.60" font-size="7" text-anchor="middle" textLength="9.4" lengthAdjust="spacingAndGlyphs">NS</text>
<line x1="581.4" y1="572" x2="618.8" y2="572" stroke="#7a7a7a" stroke-width="0.9"/>
<text x="600.10" y="569.60" font-size="7" text-anchor="middle" textLength="9.4" lengthAdjust="spacingAndGlyphs">NS</text>
<line x1="635.7" y1="519.2" x2="673" y2="519.2" stroke="#7a7a7a" stroke-width="0.9"/>
<text x="654.35" y="516.80" font-size="7" text-anchor="middle" textLength="9.4" lengthAdjust="spacingAndGlyphs">NS</text>
<path d="M425.4,614.9 L425.4,612.4 L460,612.4 L460,614.9" fill="none" stroke="#7a7a7a" stroke-width="0.9"/>
<text x="429.00" y="608.60" font-size="7.6" fill="#231f20" textLength="26.6" lengthAdjust="spacingAndGlyphs"><tspan font-style="italic">P</tspan> = 0.01</text>
<path d="M425.4,628.1 L425.4,625.6 L448.6,625.6 L448.6,628.1" fill="none" stroke="#7a7a7a" stroke-width="0.9"/>
<text x="429.00" y="624.20" font-size="7.6" fill="#231f20" textLength="36.6" lengthAdjust="spacingAndGlyphs"><tspan font-style="italic">P</tspan> = 0.0094</text>
<path d="M425.4,641.5 L425.4,639 L439.6,639 L439.6,641.5" fill="none" stroke="#7a7a7a" stroke-width="0.9"/>
<text x="429.00" y="637.00" font-size="7.6" fill="#231f20" textLength="36.6" lengthAdjust="spacingAndGlyphs"><tspan font-style="italic">P</tspan> = 0.0434</text>
<path d="M519.4,521.7 L519.4,519.2 L554.4,519.2 L554.4,521.7" fill="none" stroke="#7a7a7a" stroke-width="0.9"/>
<text x="521.60" y="513.20" font-size="7.6" fill="#231f20" textLength="37.4" lengthAdjust="spacingAndGlyphs"><tspan font-style="italic">P</tspan> = 0.0003</text>
<path d="M519.4,537.1 L519.4,534.6 L543,534.6 L543,537.1" fill="none" stroke="#7a7a7a" stroke-width="0.9"/>
<text x="517.00" y="532.00" font-size="7.6" fill="#231f20" textLength="35.4" lengthAdjust="spacingAndGlyphs"><tspan font-style="italic">P</tspan> &lt; 0.0001</text>
<path d="M539.4,554.9 L539.4,552.4 L553.4,552.4 L553.4,554.9" fill="none" stroke="#7a7a7a" stroke-width="0.9"/>
<text x="525.60" y="551.00" font-size="7.6" fill="#231f20" textLength="37.8" lengthAdjust="spacingAndGlyphs"><tspan font-style="italic">P</tspan> = 0.0003</text>
<path d="M554.4,571.1 L554.4,568.6 L568.6,568.6 L568.6,571.1" fill="none" stroke="#7a7a7a" stroke-width="0.9"/>
<text x="551.60" y="567.00" font-size="7.6" fill="#231f20" textLength="37.4" lengthAdjust="spacingAndGlyphs"><tspan font-style="italic">P</tspan> = 0.0004</text>
<path d="M526.4,584.5 L526.4,582 L540.6,582 L540.6,584.5" fill="none" stroke="#7a7a7a" stroke-width="0.9"/>
<text x="513.00" y="580.00" font-size="7.6" fill="#231f20" textLength="37.0" lengthAdjust="spacingAndGlyphs"><tspan font-style="italic">P</tspan> = 0.0003</text>
<text x="0.00" y="774.00" font-size="17" font-weight="bold" stroke="#000" stroke-width="0.9">d</text>
<line x1="53.6" y1="784.60" x2="53.6" y2="957.7" stroke="#6b6b6b" stroke-width="0.8"/>
<line x1="53.6" y1="957.7" x2="153" y2="957.7" stroke="#6b6b6b" stroke-width="0.8"/>
<line x1="49.1" y1="957.40" x2="53.6" y2="957.40" stroke="#6b6b6b" stroke-width="0.8"/>
<text x="47.20" y="960.90" font-size="9.8" text-anchor="end">0</text>
<line x1="49.1" y1="922.84" x2="53.6" y2="922.84" stroke="#6b6b6b" stroke-width="0.8"/>
<text x="47.20" y="926.34" font-size="9.8" text-anchor="end" textLength="26" lengthAdjust="spacingAndGlyphs">1,000</text>
<line x1="49.1" y1="888.28" x2="53.6" y2="888.28" stroke="#6b6b6b" stroke-width="0.8"/>
<text x="47.20" y="891.78" font-size="9.8" text-anchor="end" textLength="26" lengthAdjust="spacingAndGlyphs">2,000</text>
<line x1="49.1" y1="853.72" x2="53.6" y2="853.72" stroke="#6b6b6b" stroke-width="0.8"/>
<text x="47.20" y="857.22" font-size="9.8" text-anchor="end" textLength="26" lengthAdjust="spacingAndGlyphs">3,000</text>
<line x1="49.1" y1="819.16" x2="53.6" y2="819.16" stroke="#6b6b6b" stroke-width="0.8"/>
<text x="47.20" y="822.66" font-size="9.8" text-anchor="end" textLength="26" lengthAdjust="spacingAndGlyphs">4,000</text>
<line x1="49.1" y1="784.60" x2="53.6" y2="784.60" stroke="#6b6b6b" stroke-width="0.8"/>
<text x="47.20" y="788.10" font-size="9.8" text-anchor="end" textLength="26" lengthAdjust="spacingAndGlyphs">5,000</text>
<text x="9.90" y="871.80" font-size="9.5" text-anchor="middle" transform="rotate(-90 9.90 871.80)" textLength="161" lengthAdjust="spacingAndGlyphs">No. of germline nuclei per worm</text>
<line x1="69" y1="957.7" x2="69" y2="962" stroke="#6b6b6b" stroke-width="0.8"/>
<text x="74.30" y="970.80" font-size="9.8" text-anchor="end" transform="rotate(-45 74.30 970.80)" textLength="25.6" lengthAdjust="spacingAndGlyphs">Day 1</text>
<line x1="91.6" y1="957.7" x2="91.6" y2="962" stroke="#6b6b6b" stroke-width="0.8"/>
<text x="96.90" y="970.80" font-size="9.8" text-anchor="end" transform="rotate(-45 96.90 970.80)" textLength="25.6" lengthAdjust="spacingAndGlyphs">Day 6</text>
<line x1="114.5" y1="957.7" x2="114.5" y2="962" stroke="#6b6b6b" stroke-width="0.8"/>
<text x="119.80" y="970.80" font-size="9.8" text-anchor="end" transform="rotate(-45 119.80 970.80)" textLength="31.05" lengthAdjust="spacingAndGlyphs">Day 12</text>
<line x1="137.4" y1="957.7" x2="137.4" y2="962" stroke="#6b6b6b" stroke-width="0.8"/>
<text x="142.70" y="970.80" font-size="9.8" text-anchor="end" transform="rotate(-45 142.70 970.80)" textLength="31.05" lengthAdjust="spacingAndGlyphs">Day 14</text>
<path d="M69.4,785 L69.4,778.6 L137.7,778.6 L137.7,877.6" fill="none" stroke="#6b6b6b" stroke-width="0.8"/>
<text x="89.00" y="775.00" font-size="7.2" fill="#231f20" textLength="37.0" lengthAdjust="spacingAndGlyphs"><tspan font-style="italic">P</tspan> = 0.0369</text>
<path d="M69.4,793 L69.4,788.6 L114.8,788.6 L114.8,893.2" fill="none" stroke="#6b6b6b" stroke-width="0.8"/>
<text x="79.00" y="787.60" font-size="7.2" fill="#231f20" textLength="33.0" lengthAdjust="spacingAndGlyphs"><tspan font-style="italic">P</tspan> = 0.0191</text>
<path d="M69.4,811 L69.4,800 L92,800 L92,804" fill="none" stroke="#6b6b6b" stroke-width="0.8"/>
<text x="81.70" y="798.00" font-size="7" text-anchor="middle" textLength="9.4" lengthAdjust="spacingAndGlyphs">NS</text>
<line x1="69" y1="827.4" x2="69" y2="893.5" stroke="#8a8a8a" stroke-width="0.9"/>
<line x1="61.7" y1="860.5" x2="76.3" y2="860.5" stroke="#8a8a8a" stroke-width="0.9"/>
<line x1="65.5" y1="827.4" x2="72.5" y2="827.4" stroke="#8a8a8a" stroke-width="0.9"/>
<line x1="65.5" y1="893.5" x2="72.5" y2="893.5" stroke="#8a8a8a" stroke-width="0.9"/>
<line x1="91.6" y1="814.4" x2="91.6" y2="847" stroke="#4a4a4a" stroke-width="0.9"/>
<line x1="84.3" y1="830.4" x2="98.89999999999999" y2="830.4" stroke="#4a4a4a" stroke-width="0.9"/>
<line x1="88.1" y1="814.4" x2="95.1" y2="814.4" stroke="#4a4a4a" stroke-width="0.9"/>
<line x1="88.1" y1="847" x2="95.1" y2="847" stroke="#4a4a4a" stroke-width="0.9"/>
<line x1="114.5" y1="910.3" x2="114.5" y2="932.5" stroke="#4a4a4a" stroke-width="0.9"/>
<line x1="107.2" y1="921.3" x2="121.8" y2="921.3" stroke="#4a4a4a" stroke-width="0.9"/>
<line x1="111.0" y1="910.3" x2="118.0" y2="910.3" stroke="#4a4a4a" stroke-width="0.9"/>
<line x1="111.0" y1="932.5" x2="118.0" y2="932.5" stroke="#4a4a4a" stroke-width="0.9"/>
<line x1="137.4" y1="894.4" x2="137.4" y2="918.5" stroke="#4a4a4a" stroke-width="0.9"/>
<line x1="130.1" y1="906.3" x2="144.70000000000002" y2="906.3" stroke="#4a4a4a" stroke-width="0.9"/>
<line x1="133.9" y1="894.4" x2="140.9" y2="894.4" stroke="#4a4a4a" stroke-width="0.9"/>
<line x1="133.9" y1="918.5" x2="140.9" y2="918.5" stroke="#4a4a4a" stroke-width="0.9"/>
<circle cx="69" cy="823.2" r="2.3" fill="#f2e600"/>
<circle cx="69" cy="873.6" r="2.3" fill="#f2e600"/>
<circle cx="69" cy="885.5" r="2.3" fill="#f2e600"/>
<circle cx="88" cy="821" r="2.3" fill="#8fd6b0"/>
<circle cx="95.2" cy="822" r="2.3" fill="#8fd6b0"/>
<circle cx="91.6" cy="849.6" r="2.3" fill="#8fd6b0"/>
<circle cx="111" cy="913.5" r="2.3" fill="#3db5c8"/>
<circle cx="118" cy="916" r="2.3" fill="#3db5c8"/>
<circle cx="114.5" cy="933.6" r="2.3" fill="#3db5c8"/>
<circle cx="137.4" cy="896.7" r="2.3" fill="#1f5aa8"/>
<circle cx="137.4" cy="901.9" r="2.3" fill="#1f5aa8"/>
<circle cx="137.4" cy="919.9" r="2.3" fill="#1f5aa8"/>
<text x="166.50" y="774.00" font-size="17" font-weight="bold" stroke="#000" stroke-width="0.9">e</text>
<line x1="213" y1="782" x2="213" y2="957.6" stroke="#6b6b6b" stroke-width="0.8"/>
<line x1="213" y1="957.6" x2="685" y2="957.6" stroke="#8a8a8a" stroke-width="1"/>
<line x1="208.5" y1="947.00" x2="213" y2="947.00" stroke="#6b6b6b" stroke-width="0.8"/>
<text x="203.50" y="950.50" font-size="9.8" text-anchor="end">0</text>
<line x1="208.5" y1="913.32" x2="213" y2="913.32" stroke="#6b6b6b" stroke-width="0.8"/>
<text x="203.50" y="916.82" font-size="9.8" text-anchor="end" textLength="19" lengthAdjust="spacingAndGlyphs">0.05</text>
<line x1="208.5" y1="879.64" x2="213" y2="879.64" stroke="#6b6b6b" stroke-width="0.8"/>
<text x="203.50" y="883.14" font-size="9.8" text-anchor="end" textLength="19" lengthAdjust="spacingAndGlyphs">0.10</text>
<line x1="208.5" y1="845.96" x2="213" y2="845.96" stroke="#6b6b6b" stroke-width="0.8"/>
<text x="203.50" y="849.46" font-size="9.8" text-anchor="end" textLength="19" lengthAdjust="spacingAndGlyphs">0.15</text>
<line x1="208.5" y1="812.28" x2="213" y2="812.28" stroke="#6b6b6b" stroke-width="0.8"/>
<text x="203.50" y="815.78" font-size="9.8" text-anchor="end" textLength="19" lengthAdjust="spacingAndGlyphs">0.20</text>
<text x="174.70" y="870.00" font-size="9.5" text-anchor="middle" transform="rotate(-90 174.70 870.00)" textLength="140" lengthAdjust="spacingAndGlyphs">Maximum mean discrepancy</text>
<line x1="226.3" y1="784.7" x2="226.3" y2="793.3" stroke="#888" stroke-width="0.6"/>
<rect x="221.3" y="786.2" width="10" height="5.6" fill="#b3f5dc" stroke="#666" stroke-width="0.6"/>
<line x1="221.3" y1="789" x2="231.3" y2="789" stroke="#444" stroke-width="0.6"/>
<text x="237.60" y="792.00" font-size="8.6" textLength="41.5" lengthAdjust="spacingAndGlyphs">WT D1–D6</text>
<line x1="226.3" y1="795.0" x2="226.3" y2="803.5999999999999" stroke="#888" stroke-width="0.6"/>
<rect x="221.3" y="796.5" width="10" height="5.6" fill="#40b5c5" stroke="#666" stroke-width="0.6"/>
<line x1="221.3" y1="799.3" x2="231.3" y2="799.3" stroke="#444" stroke-width="0.6"/>
<text x="237.60" y="802.30" font-size="8.6" textLength="44.8" lengthAdjust="spacingAndGlyphs">WT D1–D12</text>
<line x1="226.3" y1="805.9000000000001" x2="226.3" y2="814.5" stroke="#888" stroke-width="0.6"/>
<rect x="221.3" y="807.4000000000001" width="10" height="5.6" fill="#2158a6" stroke="#666" stroke-width="0.6"/>
<line x1="221.3" y1="810.2" x2="231.3" y2="810.2" stroke="#444" stroke-width="0.6"/>
<text x="237.60" y="813.20" font-size="8.6" textLength="44.8" lengthAdjust="spacingAndGlyphs">WT D1–D14</text>
<line x1="252.2" y1="957.6" x2="252.2" y2="962" stroke="#8a8a8a" stroke-width="0.9"/>
<text x="256.40" y="970.80" font-size="10" text-anchor="end" transform="rotate(-45 256.40 970.80)" textLength="38.88" lengthAdjust="spacingAndGlyphs">Pharynx</text>
<line x1="317.6" y1="957.6" x2="317.6" y2="962" stroke="#8a8a8a" stroke-width="0.9"/>
<text x="321.80" y="970.80" font-size="10" text-anchor="end" transform="rotate(-45 321.80 970.80)" textLength="34.76" lengthAdjust="spacingAndGlyphs">Neuron</text>
<line x1="383.6" y1="957.6" x2="383.6" y2="962" stroke="#8a8a8a" stroke-width="0.9"/>
<text x="387.80" y="970.80" font-size="10" text-anchor="end" transform="rotate(-45 387.80 970.80)" textLength="43.0" lengthAdjust="spacingAndGlyphs">Germline</text>
<line x1="449" y1="957.6" x2="449" y2="962" stroke="#8a8a8a" stroke-width="0.9"/>
<text x="453.20" y="970.80" font-size="10" text-anchor="end" transform="rotate(-45 453.20 970.80)" textLength="56.55" lengthAdjust="spacingAndGlyphs">Hypodermis</text>
<line x1="514.4" y1="957.6" x2="514.4" y2="962" stroke="#8a8a8a" stroke-width="0.9"/>
<text x="518.60" y="970.80" font-size="10" text-anchor="end" transform="rotate(-45 518.60 970.80)" textLength="40.07" lengthAdjust="spacingAndGlyphs">Intestine</text>
<line x1="579.8" y1="957.6" x2="579.8" y2="962" stroke="#8a8a8a" stroke-width="0.9"/>
<text x="584.00" y="970.80" font-size="10" text-anchor="end" transform="rotate(-45 584.00 970.80)" textLength="58.53" lengthAdjust="spacingAndGlyphs">Vulva/uterus</text>
<line x1="645.2" y1="957.6" x2="645.2" y2="962" stroke="#8a8a8a" stroke-width="0.9"/>
<text x="649.40" y="970.80" font-size="10" text-anchor="end" transform="rotate(-45 649.40 970.80)" textLength="33.57" lengthAdjust="spacingAndGlyphs">Muscle</text>
<line x1="232.50" y1="925" x2="232.50" y2="946.4" stroke="#8a8a8a" stroke-width="0.9"/>
<rect x="227.00" y="934" width="11" height="7.60" fill="#b3f5dc" stroke="#4d4d4d" stroke-width="0.7"/>
<line x1="227.00" y1="938" x2="238.00" y2="938" stroke="#333" stroke-width="0.8"/>
<line x1="252.20" y1="930.4" x2="252.20" y2="948" stroke="#8a8a8a" stroke-width="0.9"/>
<rect x="246.70" y="939" width="11" height="6.00" fill="#40b5c5" stroke="#4d4d4d" stroke-width="0.7"/>
<line x1="246.70" y1="942.4" x2="257.70" y2="942.4" stroke="#333" stroke-width="0.8"/>
<line x1="271.90" y1="891" x2="271.90" y2="946" stroke="#8a8a8a" stroke-width="0.9"/>
<rect x="266.40" y="917" width="11" height="19.60" fill="#2158a6" stroke="#4d4d4d" stroke-width="0.7"/>
<line x1="266.40" y1="928" x2="277.40" y2="928" stroke="#333" stroke-width="0.8"/>
<line x1="297.90" y1="893" x2="297.90" y2="937" stroke="#8a8a8a" stroke-width="0.9"/>
<rect x="292.40" y="913" width="11" height="13.60" fill="#b3f5dc" stroke="#4d4d4d" stroke-width="0.7"/>
<line x1="292.40" y1="922" x2="303.40" y2="922" stroke="#333" stroke-width="0.8"/>
<line x1="317.60" y1="925.6" x2="317.60" y2="943" stroke="#8a8a8a" stroke-width="0.9"/>
<rect x="312.10" y="932.4" width="11" height="6.00" fill="#40b5c5" stroke="#4d4d4d" stroke-width="0.7"/>
<line x1="312.10" y1="935.4" x2="323.10" y2="935.4" stroke="#333" stroke-width="0.8"/>
<line x1="337.30" y1="922" x2="337.30" y2="943.4" stroke="#8a8a8a" stroke-width="0.9"/>
<rect x="331.80" y="932" width="11" height="6.60" fill="#2158a6" stroke="#4d4d4d" stroke-width="0.7"/>
<line x1="331.80" y1="935.4" x2="342.80" y2="935.4" stroke="#333" stroke-width="0.8"/>
<line x1="363.90" y1="934" x2="363.90" y2="949.6" stroke="#8a8a8a" stroke-width="0.9"/>
<rect x="358.40" y="941" width="11" height="5.40" fill="#b3f5dc" stroke="#4d4d4d" stroke-width="0.7"/>
<line x1="358.40" y1="943.6" x2="369.40" y2="943.6" stroke="#333" stroke-width="0.8"/>
<line x1="383.60" y1="921.4" x2="383.60" y2="947" stroke="#8a8a8a" stroke-width="0.9"/>
<rect x="378.10" y="933" width="11" height="10.60" fill="#40b5c5" stroke="#4d4d4d" stroke-width="0.7"/>
<line x1="378.10" y1="938.4" x2="389.10" y2="938.4" stroke="#333" stroke-width="0.8"/>
<line x1="403.30" y1="932" x2="403.30" y2="949" stroke="#8a8a8a" stroke-width="0.9"/>
<rect x="397.80" y="940" width="11" height="6.40" fill="#2158a6" stroke="#4d4d4d" stroke-width="0.7"/>
<line x1="397.80" y1="943" x2="408.80" y2="943" stroke="#333" stroke-width="0.8"/>
<line x1="429.30" y1="904.4" x2="429.30" y2="945.6" stroke="#8a8a8a" stroke-width="0.9"/>
<rect x="423.80" y="920.4" width="11" height="14.20" fill="#b3f5dc" stroke="#4d4d4d" stroke-width="0.7"/>
<line x1="423.80" y1="928" x2="434.80" y2="928" stroke="#333" stroke-width="0.8"/>
<line x1="449.00" y1="817.4" x2="449.00" y2="931" stroke="#8a8a8a" stroke-width="0.9"/>
<rect x="443.50" y="854" width="11" height="32.40" fill="#40b5c5" stroke="#4d4d4d" stroke-width="0.7"/>
<line x1="443.50" y1="870.4" x2="454.50" y2="870.4" stroke="#333" stroke-width="0.8"/>
<line x1="468.70" y1="873" x2="468.70" y2="929.6" stroke="#8a8a8a" stroke-width="0.9"/>
<rect x="463.20" y="899.4" width="11" height="19.20" fill="#2158a6" stroke="#4d4d4d" stroke-width="0.7"/>
<line x1="463.20" y1="910.4" x2="474.20" y2="910.4" stroke="#333" stroke-width="0.8"/>
<line x1="494.70" y1="914" x2="494.70" y2="945.4" stroke="#8a8a8a" stroke-width="0.9"/>
<rect x="489.20" y="929.4" width="11" height="10.60" fill="#b3f5dc" stroke="#4d4d4d" stroke-width="0.7"/>
<line x1="489.20" y1="935.4" x2="500.20" y2="935.4" stroke="#333" stroke-width="0.8"/>
<line x1="514.40" y1="930.4" x2="514.40" y2="946" stroke="#8a8a8a" stroke-width="0.9"/>
<rect x="508.90" y="936.4" width="11" height="4.60" fill="#40b5c5" stroke="#4d4d4d" stroke-width="0.7"/>
<line x1="508.90" y1="938.6" x2="519.90" y2="938.6" stroke="#333" stroke-width="0.8"/>
<line x1="534.10" y1="924.6" x2="534.10" y2="941.4" stroke="#8a8a8a" stroke-width="0.9"/>
<rect x="528.60" y="932.4" width="11" height="5.20" fill="#2158a6" stroke="#4d4d4d" stroke-width="0.7"/>
<line x1="528.60" y1="935" x2="539.60" y2="935" stroke="#333" stroke-width="0.8"/>
<line x1="560.10" y1="916.2" x2="560.10" y2="946.5" stroke="#8a8a8a" stroke-width="0.9"/>
<rect x="554.60" y="930.4" width="11" height="9.10" fill="#b3f5dc" stroke="#4d4d4d" stroke-width="0.7"/>
<line x1="554.60" y1="935.3" x2="565.60" y2="935.3" stroke="#333" stroke-width="0.8"/>
<line x1="579.80" y1="924.7" x2="579.80" y2="945.2" stroke="#8a8a8a" stroke-width="0.9"/>
<rect x="574.30" y="932.5" width="11" height="6.40" fill="#40b5c5" stroke="#4d4d4d" stroke-width="0.7"/>
<line x1="574.30" y1="935.9" x2="585.30" y2="935.9" stroke="#333" stroke-width="0.8"/>
<line x1="599.50" y1="911.5" x2="599.50" y2="939.9" stroke="#8a8a8a" stroke-width="0.9"/>
<rect x="594.00" y="922.1" width="11" height="7.40" fill="#2158a6" stroke="#4d4d4d" stroke-width="0.7"/>
<line x1="594.00" y1="925.3" x2="605.00" y2="925.3" stroke="#333" stroke-width="0.8"/>
<line x1="625.50" y1="926.2" x2="625.50" y2="946.5" stroke="#8a8a8a" stroke-width="0.9"/>
<rect x="620.00" y="935.3" width="11" height="6.90" fill="#b3f5dc" stroke="#4d4d4d" stroke-width="0.7"/>
<line x1="620.00" y1="938.4" x2="631.00" y2="938.4" stroke="#333" stroke-width="0.8"/>
<line x1="645.20" y1="908.4" x2="645.20" y2="941.6" stroke="#8a8a8a" stroke-width="0.9"/>
<rect x="639.70" y="921.1" width="11" height="9.30" fill="#40b5c5" stroke="#4d4d4d" stroke-width="0.7"/>
<line x1="639.70" y1="926.4" x2="650.70" y2="926.4" stroke="#333" stroke-width="0.8"/>
<line x1="664.90" y1="927.4" x2="664.90" y2="946.5" stroke="#8a8a8a" stroke-width="0.9"/>
<rect x="659.40" y="933.8" width="11" height="6.70" fill="#2158a6" stroke="#4d4d4d" stroke-width="0.7"/>
<line x1="659.40" y1="937.4" x2="670.40" y2="937.4" stroke="#333" stroke-width="0.8"/>
<path d="M229,865.2 L229,862.6 L270.4,862.6 L270.4,865.2" fill="none" stroke="#7a7a7a" stroke-width="0.9"/>
<text x="232.00" y="860.00" font-size="7.6" fill="#231f20" textLength="37.0" lengthAdjust="spacingAndGlyphs">P &lt; 0.0001</text>
<path d="M249.4,878.0 L249.4,875.4 L270.4,875.4 L270.4,878.0" fill="none" stroke="#7a7a7a" stroke-width="0.9"/>
<text x="244.00" y="873.00" font-size="7.6" fill="#231f20" textLength="37.0" lengthAdjust="spacingAndGlyphs">P &lt; 0.0001</text>
<path d="M229,890.0 L229,887.4 L249.6,887.4 L249.6,890.0" fill="none" stroke="#7a7a7a" stroke-width="0.9"/>
<text x="240.30" y="884.00" font-size="7.3" text-anchor="middle" textLength="9.400000000000006" lengthAdjust="spacingAndGlyphs">NS</text>
<path d="M297.4,862.6 L297.4,860 L338.6,860 L338.6,862.6" fill="none" stroke="#7a7a7a" stroke-width="0.9"/>
<text x="300.00" y="858.00" font-size="7.6" fill="#231f20" textLength="36.0" lengthAdjust="spacingAndGlyphs">P &lt; 0.0001</text>
<path d="M317.4,873.2 L317.4,870.6 L338.6,870.6 L338.6,873.2" fill="none" stroke="#7a7a7a" stroke-width="0.9"/>
<text x="328.50" y="868.00" font-size="7.3" text-anchor="middle" textLength="9" lengthAdjust="spacingAndGlyphs">NS</text>
<path d="M297.4,885.0 L297.4,882.4 L317.4,882.4 L317.4,885.0" fill="none" stroke="#7a7a7a" stroke-width="0.9"/>
<text x="290.00" y="881.00" font-size="7.6" fill="#231f20" textLength="36.0" lengthAdjust="spacingAndGlyphs">P &lt; 0.0001</text>
<path d="M362,884.6 L362,882 L403.4,882 L403.4,884.6" fill="none" stroke="#7a7a7a" stroke-width="0.9"/>
<text x="384.00" y="878.60" font-size="7.3" text-anchor="middle" textLength="10" lengthAdjust="spacingAndGlyphs">NS</text>
<path d="M383,903.0 L383,900.4 L403.4,900.4 L403.4,903.0" fill="none" stroke="#7a7a7a" stroke-width="0.9"/>
<text x="377.00" y="898.00" font-size="7.6" fill="#231f20" textLength="37.0" lengthAdjust="spacingAndGlyphs">P = 0.0004</text>
<path d="M362,913.0 L362,910.4 L383,910.4 L383,913.0" fill="none" stroke="#7a7a7a" stroke-width="0.9"/>
<text x="343.60" y="908.00" font-size="7.6" fill="#231f20" textLength="37.4" lengthAdjust="spacingAndGlyphs">P = 0.0002</text>
<path d="M425.6,787.6 L425.6,785 L466.6,785 L466.6,787.6" fill="none" stroke="#7a7a7a" stroke-width="0.9"/>
<text x="428.00" y="781.60" font-size="7.6" fill="#231f20" textLength="35.6" lengthAdjust="spacingAndGlyphs">P &lt; 0.0001</text>
<path d="M446,800.0 L446,797.4 L466.6,797.4 L466.6,800.0" fill="none" stroke="#7a7a7a" stroke-width="0.9"/>
<text x="441.60" y="796.00" font-size="7.6" fill="#231f20" textLength="35.4" lengthAdjust="spacingAndGlyphs">P &lt; 0.0001</text>
<path d="M425.6,814.0 L425.6,811.4 L446,811.4 L446,814.0" fill="none" stroke="#7a7a7a" stroke-width="0.9"/>
<text x="418.00" y="810.00" font-size="7.6" fill="#231f20" textLength="36.4" lengthAdjust="spacingAndGlyphs">P &lt; 0.0001</text>
<path d="M495.6,882.0 L495.6,879.4 L536.4,879.4 L536.4,882.0" fill="none" stroke="#7a7a7a" stroke-width="0.9"/>
<text x="517.00" y="876.00" font-size="7.3" text-anchor="middle" textLength="10" lengthAdjust="spacingAndGlyphs">NS</text>
<path d="M515.6,892.6 L515.6,890 L536.4,890 L536.4,892.6" fill="none" stroke="#7a7a7a" stroke-width="0.9"/>
<text x="526.50" y="887.40" font-size="7.3" text-anchor="middle" textLength="10.200000000000045" lengthAdjust="spacingAndGlyphs">NS</text>
<path d="M495.6,906.6 L495.6,904 L516,904 L516,906.6" fill="none" stroke="#7a7a7a" stroke-width="0.9"/>
<text x="487.00" y="901.00" font-size="7.6" fill="#231f20" textLength="36.4" lengthAdjust="spacingAndGlyphs">P = 0.0396</text>
<path d="M559.5,883.5 L559.5,880.9 L600.8,880.9 L600.8,883.5" fill="none" stroke="#7a7a7a" stroke-width="0.9"/>
<text x="561.80" y="877.70" font-size="7.6" fill="#231f20" textLength="35.8" lengthAdjust="spacingAndGlyphs">P &lt; 0.0001</text>
<path d="M580.2,896.2 L580.2,893.6 L600.8,893.6 L600.8,896.2" fill="none" stroke="#7a7a7a" stroke-width="0.9"/>
<text x="576.00" y="891.90" font-size="7.6" fill="#231f20" textLength="36.0" lengthAdjust="spacingAndGlyphs">P &lt; 0.0001</text>
<path d="M559.5,908.2 L559.5,905.6 L580.2,905.6 L580.2,908.2" fill="none" stroke="#7a7a7a" stroke-width="0.9"/>
<text x="570.60" y="902.40" font-size="7.3" text-anchor="middle" textLength="9.600000000000023" lengthAdjust="spacingAndGlyphs">NS</text>
<path d="M626.8,879.2 L626.8,876.6 L668.5,876.6 L668.5,879.2" fill="none" stroke="#7a7a7a" stroke-width="0.9"/>
<text x="649.55" y="872.20" font-size="7.3" text-anchor="middle" textLength="9.5" lengthAdjust="spacingAndGlyphs">NS</text>
<path d="M647.5,891.7 L647.5,889.1 L668.5,889.1 L668.5,891.7" fill="none" stroke="#7a7a7a" stroke-width="0.9"/>
<text x="638.40" y="886.60" font-size="7.6" fill="#231f20" textLength="36.0" lengthAdjust="spacingAndGlyphs">P &lt; 0.0001</text>
<path d="M626.8,905.0 L626.8,902.4 L647.5,902.4 L647.5,905.0" fill="none" stroke="#7a7a7a" stroke-width="0.9"/>
<text x="621.90" y="900.00" font-size="7.6" fill="#231f20" textLength="35.1" lengthAdjust="spacingAndGlyphs">P &lt; 0.0001</text>
</svg>
</body></html>
